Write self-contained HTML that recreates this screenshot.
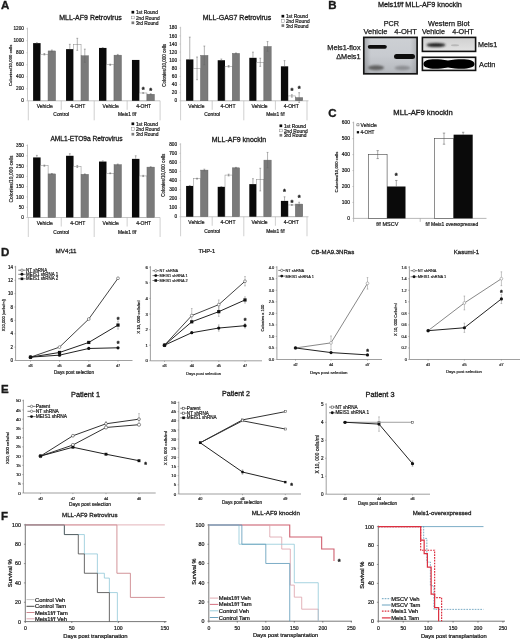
<!DOCTYPE html>
<html><head><meta charset="utf-8"><style>
html,body{margin:0;padding:0;background:#fff;}
body{width:520px;height:640px;overflow:hidden;}
svg{display:block;font-family:"Liberation Sans",sans-serif;will-change:transform;filter:blur(0.3px);}
text{fill:#1a1a1a;stroke:#1a1a1a;stroke-width:0.18px;}
</style></head><body>
<svg width="520" height="640" viewBox="0 0 520 640">
<rect width="520" height="640" fill="#fff"/>
<text x="0.90" y="9.14" font-size="11.5" fill="#000" font-weight="bold" style="stroke-width:0.35px">A</text>
<line x1="27.50" y1="27.70" x2="27.50" y2="100.80" stroke="#b0b0b0" stroke-width="0.7"/>
<line x1="26.30" y1="100.80" x2="27.50" y2="100.80" stroke="#b0b0b0" stroke-width="0.5"/>
<text x="23.90" y="102.49" font-size="4.7" text-anchor="end" style="stroke-width:0.197px">0</text>
<line x1="26.30" y1="88.78" x2="27.50" y2="88.78" stroke="#b0b0b0" stroke-width="0.5"/>
<text x="23.90" y="90.48" font-size="4.7" text-anchor="end" style="stroke-width:0.197px">200</text>
<line x1="26.30" y1="76.77" x2="27.50" y2="76.77" stroke="#b0b0b0" stroke-width="0.5"/>
<text x="23.90" y="78.46" font-size="4.7" text-anchor="end" style="stroke-width:0.197px">400</text>
<line x1="26.30" y1="64.75" x2="27.50" y2="64.75" stroke="#b0b0b0" stroke-width="0.5"/>
<text x="23.90" y="66.44" font-size="4.7" text-anchor="end" style="stroke-width:0.197px">600</text>
<line x1="26.30" y1="52.73" x2="27.50" y2="52.73" stroke="#b0b0b0" stroke-width="0.5"/>
<text x="23.90" y="54.43" font-size="4.7" text-anchor="end" style="stroke-width:0.197px">800</text>
<line x1="26.30" y1="40.72" x2="27.50" y2="40.72" stroke="#b0b0b0" stroke-width="0.5"/>
<text x="23.90" y="42.41" font-size="4.7" text-anchor="end" style="stroke-width:0.197px">1000</text>
<line x1="26.30" y1="28.70" x2="27.50" y2="28.70" stroke="#b0b0b0" stroke-width="0.5"/>
<text x="23.90" y="30.39" font-size="4.7" text-anchor="end" style="stroke-width:0.197px">1200</text>
<line x1="27.50" y1="100.80" x2="160.10" y2="100.80" stroke="#b0b0b0" stroke-width="0.7"/>
<line x1="28.30" y1="100.80" x2="28.30" y2="120.30" stroke="#b0b0b0" stroke-width="0.6"/>
<line x1="61.25" y1="100.80" x2="61.25" y2="109.80" stroke="#b0b0b0" stroke-width="0.6"/>
<line x1="94.20" y1="100.80" x2="94.20" y2="120.30" stroke="#b0b0b0" stroke-width="0.6"/>
<line x1="127.15" y1="100.80" x2="127.15" y2="109.80" stroke="#b0b0b0" stroke-width="0.6"/>
<line x1="160.10" y1="100.80" x2="160.10" y2="120.30" stroke="#b0b0b0" stroke-width="0.6"/>
<rect x="33.10" y="43.12" width="7.50" height="57.68" fill="#0a0a0a"/>
<line x1="36.85" y1="42.76" x2="36.85" y2="43.12" stroke="#666" stroke-width="0.5"/>
<line x1="35.95" y1="42.76" x2="37.75" y2="42.76" stroke="#666" stroke-width="0.5"/>
<rect x="40.60" y="54.24" width="7.50" height="46.56" fill="#fff" stroke="#888" stroke-width="0.5"/>
<line x1="44.35" y1="53.51" x2="44.35" y2="54.96" stroke="#666" stroke-width="0.5"/>
<line x1="43.45" y1="53.51" x2="45.25" y2="53.51" stroke="#666" stroke-width="0.5"/>
<line x1="43.45" y1="54.96" x2="45.25" y2="54.96" stroke="#666" stroke-width="0.5"/>
<rect x="48.10" y="50.93" width="7.50" height="49.87" fill="#7a7a7a" stroke="#606060" stroke-width="0.4"/>
<line x1="51.85" y1="50.03" x2="51.85" y2="51.83" stroke="#666" stroke-width="0.5"/>
<line x1="50.95" y1="50.03" x2="52.75" y2="50.03" stroke="#666" stroke-width="0.5"/>
<line x1="50.95" y1="51.83" x2="52.75" y2="51.83" stroke="#666" stroke-width="0.5"/>
<rect x="66.05" y="49.13" width="7.50" height="51.67" fill="#0a0a0a"/>
<line x1="69.80" y1="44.32" x2="69.80" y2="49.13" stroke="#666" stroke-width="0.5"/>
<line x1="68.90" y1="44.32" x2="70.70" y2="44.32" stroke="#666" stroke-width="0.5"/>
<rect x="73.55" y="44.32" width="7.50" height="56.48" fill="#fff" stroke="#888" stroke-width="0.5"/>
<line x1="77.30" y1="38.31" x2="77.30" y2="50.33" stroke="#666" stroke-width="0.5"/>
<line x1="76.40" y1="38.31" x2="78.20" y2="38.31" stroke="#666" stroke-width="0.5"/>
<line x1="76.40" y1="50.33" x2="78.20" y2="50.33" stroke="#666" stroke-width="0.5"/>
<rect x="81.05" y="55.74" width="7.50" height="45.06" fill="#7a7a7a" stroke="#606060" stroke-width="0.4"/>
<line x1="84.80" y1="49.13" x2="84.80" y2="62.35" stroke="#666" stroke-width="0.5"/>
<line x1="83.90" y1="49.13" x2="85.70" y2="49.13" stroke="#666" stroke-width="0.5"/>
<line x1="83.90" y1="62.35" x2="85.70" y2="62.35" stroke="#666" stroke-width="0.5"/>
<rect x="99.00" y="47.93" width="7.50" height="52.87" fill="#0a0a0a"/>
<line x1="102.75" y1="47.63" x2="102.75" y2="47.93" stroke="#666" stroke-width="0.5"/>
<line x1="101.85" y1="47.63" x2="103.65" y2="47.63" stroke="#666" stroke-width="0.5"/>
<rect x="106.50" y="64.75" width="7.50" height="36.05" fill="#fff" stroke="#888" stroke-width="0.5"/>
<line x1="110.25" y1="64.15" x2="110.25" y2="65.35" stroke="#666" stroke-width="0.5"/>
<line x1="109.35" y1="64.15" x2="111.15" y2="64.15" stroke="#666" stroke-width="0.5"/>
<line x1="109.35" y1="65.35" x2="111.15" y2="65.35" stroke="#666" stroke-width="0.5"/>
<rect x="114.00" y="55.14" width="7.50" height="45.66" fill="#7a7a7a" stroke="#606060" stroke-width="0.4"/>
<line x1="117.75" y1="54.42" x2="117.75" y2="55.86" stroke="#666" stroke-width="0.5"/>
<line x1="116.85" y1="54.42" x2="118.65" y2="54.42" stroke="#666" stroke-width="0.5"/>
<line x1="116.85" y1="55.86" x2="118.65" y2="55.86" stroke="#666" stroke-width="0.5"/>
<rect x="131.95" y="59.94" width="7.50" height="40.86" fill="#0a0a0a"/>
<rect x="139.45" y="92.99" width="7.50" height="7.81" fill="#fff" stroke="#888" stroke-width="0.5"/>
<line x1="143.20" y1="92.69" x2="143.20" y2="93.29" stroke="#666" stroke-width="0.5"/>
<line x1="142.30" y1="92.69" x2="144.10" y2="92.69" stroke="#666" stroke-width="0.5"/>
<line x1="142.30" y1="93.29" x2="144.10" y2="93.29" stroke="#666" stroke-width="0.5"/>
<rect x="146.95" y="94.19" width="7.50" height="6.61" fill="#7a7a7a" stroke="#606060" stroke-width="0.4"/>
<line x1="150.70" y1="93.71" x2="150.70" y2="94.67" stroke="#666" stroke-width="0.5"/>
<line x1="149.80" y1="93.71" x2="151.60" y2="93.71" stroke="#666" stroke-width="0.5"/>
<line x1="149.80" y1="94.67" x2="151.60" y2="94.67" stroke="#666" stroke-width="0.5"/>
<text x="143.20" y="91.68" font-size="7.5" text-anchor="middle" fill="#111" font-weight="bold" style="stroke-width:0.315px">*</text>
<text x="150.70" y="92.88" font-size="7.5" text-anchor="middle" fill="#111" font-weight="bold" style="stroke-width:0.315px">*</text>
<text x="44.78" y="107.60" font-size="5.0" text-anchor="middle" style="stroke-width:0.21px">Vehicle</text>
<text x="77.73" y="107.60" font-size="5.0" text-anchor="middle" style="stroke-width:0.21px">4-OHT</text>
<text x="110.67" y="107.60" font-size="5.0" text-anchor="middle" style="stroke-width:0.21px">Vehicle</text>
<text x="143.63" y="107.60" font-size="5.0" text-anchor="middle" style="stroke-width:0.21px">4-OHT</text>
<text x="61.25" y="116.26" font-size="4.9" text-anchor="middle" style="stroke-width:0.206px">Control</text>
<text x="127.15" y="116.26" font-size="4.9" text-anchor="middle" style="stroke-width:0.206px">Meis1 f/f</text>
<text x="90.50" y="20.02" font-size="7" text-anchor="middle" style="stroke-width:0.294px">MLL-AF9 Retrovirus</text>
<text x="10.10" y="66.87" font-size="4.37" text-anchor="middle" style="stroke-width:0.184px" transform="rotate(-90 10.10 65.30)">Colonies/10,000 cells</text>
<rect x="131.50" y="10.85" width="2.70" height="2.70" fill="#0a0a0a"/>
<text x="135.90" y="14.35" font-size="4.85" style="stroke-width:0.204px">1st Round</text>
<rect x="131.50" y="16.15" width="2.70" height="2.70" fill="#ffffff" stroke="#777" stroke-width="0.4"/>
<text x="135.90" y="19.65" font-size="4.85" style="stroke-width:0.204px">2nd Round</text>
<rect x="131.50" y="21.45" width="2.70" height="2.70" fill="#7a7a7a"/>
<text x="135.90" y="24.95" font-size="4.85" style="stroke-width:0.204px">3rd Round</text>
<line x1="180.60" y1="26.80" x2="180.60" y2="100.80" stroke="#b0b0b0" stroke-width="0.7"/>
<line x1="179.40" y1="100.80" x2="180.60" y2="100.80" stroke="#b0b0b0" stroke-width="0.5"/>
<text x="177.00" y="102.49" font-size="4.7" text-anchor="end" style="stroke-width:0.197px">0</text>
<line x1="179.40" y1="92.69" x2="180.60" y2="92.69" stroke="#b0b0b0" stroke-width="0.5"/>
<text x="177.00" y="94.38" font-size="4.7" text-anchor="end" style="stroke-width:0.197px">20</text>
<line x1="179.40" y1="84.58" x2="180.60" y2="84.58" stroke="#b0b0b0" stroke-width="0.5"/>
<text x="177.00" y="86.27" font-size="4.7" text-anchor="end" style="stroke-width:0.197px">40</text>
<line x1="179.40" y1="76.47" x2="180.60" y2="76.47" stroke="#b0b0b0" stroke-width="0.5"/>
<text x="177.00" y="78.16" font-size="4.7" text-anchor="end" style="stroke-width:0.197px">60</text>
<line x1="179.40" y1="68.36" x2="180.60" y2="68.36" stroke="#b0b0b0" stroke-width="0.5"/>
<text x="177.00" y="70.05" font-size="4.7" text-anchor="end" style="stroke-width:0.197px">80</text>
<line x1="179.40" y1="60.24" x2="180.60" y2="60.24" stroke="#b0b0b0" stroke-width="0.5"/>
<text x="177.00" y="61.94" font-size="4.7" text-anchor="end" style="stroke-width:0.197px">100</text>
<line x1="179.40" y1="52.13" x2="180.60" y2="52.13" stroke="#b0b0b0" stroke-width="0.5"/>
<text x="177.00" y="53.83" font-size="4.7" text-anchor="end" style="stroke-width:0.197px">120</text>
<line x1="179.40" y1="44.02" x2="180.60" y2="44.02" stroke="#b0b0b0" stroke-width="0.5"/>
<text x="177.00" y="45.71" font-size="4.7" text-anchor="end" style="stroke-width:0.197px">140</text>
<line x1="179.40" y1="35.91" x2="180.60" y2="35.91" stroke="#b0b0b0" stroke-width="0.5"/>
<text x="177.00" y="37.60" font-size="4.7" text-anchor="end" style="stroke-width:0.197px">160</text>
<line x1="179.40" y1="27.80" x2="180.60" y2="27.80" stroke="#b0b0b0" stroke-width="0.5"/>
<text x="177.00" y="29.49" font-size="4.7" text-anchor="end" style="stroke-width:0.197px">180</text>
<line x1="180.60" y1="100.80" x2="308.50" y2="100.80" stroke="#b0b0b0" stroke-width="0.7"/>
<line x1="180.60" y1="100.80" x2="180.60" y2="120.30" stroke="#b0b0b0" stroke-width="0.6"/>
<line x1="212.20" y1="100.80" x2="212.20" y2="109.80" stroke="#b0b0b0" stroke-width="0.6"/>
<line x1="243.80" y1="100.80" x2="243.80" y2="120.30" stroke="#b0b0b0" stroke-width="0.6"/>
<line x1="275.40" y1="100.80" x2="275.40" y2="109.80" stroke="#b0b0b0" stroke-width="0.6"/>
<line x1="307.00" y1="100.80" x2="307.00" y2="120.30" stroke="#b0b0b0" stroke-width="0.6"/>
<rect x="186.10" y="59.43" width="7.30" height="41.37" fill="#0a0a0a"/>
<line x1="189.75" y1="37.13" x2="189.75" y2="59.43" stroke="#666" stroke-width="0.5"/>
<line x1="188.85" y1="37.13" x2="190.65" y2="37.13" stroke="#666" stroke-width="0.5"/>
<rect x="193.40" y="68.36" width="7.30" height="32.44" fill="#fff" stroke="#888" stroke-width="0.5"/>
<line x1="197.05" y1="57.00" x2="197.05" y2="79.71" stroke="#666" stroke-width="0.5"/>
<line x1="196.15" y1="57.00" x2="197.95" y2="57.00" stroke="#666" stroke-width="0.5"/>
<line x1="196.15" y1="79.71" x2="197.95" y2="79.71" stroke="#666" stroke-width="0.5"/>
<rect x="200.70" y="55.38" width="7.30" height="45.42" fill="#7a7a7a" stroke="#606060" stroke-width="0.4"/>
<line x1="204.35" y1="46.05" x2="204.35" y2="64.71" stroke="#666" stroke-width="0.5"/>
<line x1="203.45" y1="46.05" x2="205.25" y2="46.05" stroke="#666" stroke-width="0.5"/>
<line x1="203.45" y1="64.71" x2="205.25" y2="64.71" stroke="#666" stroke-width="0.5"/>
<rect x="217.70" y="60.24" width="7.30" height="40.56" fill="#0a0a0a"/>
<line x1="221.35" y1="59.03" x2="221.35" y2="60.24" stroke="#666" stroke-width="0.5"/>
<line x1="220.45" y1="59.03" x2="222.25" y2="59.03" stroke="#666" stroke-width="0.5"/>
<rect x="225.00" y="66.33" width="7.30" height="34.47" fill="#fff" stroke="#888" stroke-width="0.5"/>
<line x1="228.65" y1="65.52" x2="228.65" y2="67.14" stroke="#666" stroke-width="0.5"/>
<line x1="227.75" y1="65.52" x2="229.55" y2="65.52" stroke="#666" stroke-width="0.5"/>
<line x1="227.75" y1="67.14" x2="229.55" y2="67.14" stroke="#666" stroke-width="0.5"/>
<rect x="232.30" y="53.35" width="7.30" height="47.45" fill="#7a7a7a" stroke="#606060" stroke-width="0.4"/>
<line x1="235.95" y1="52.94" x2="235.95" y2="53.76" stroke="#666" stroke-width="0.5"/>
<line x1="235.05" y1="52.94" x2="236.85" y2="52.94" stroke="#666" stroke-width="0.5"/>
<line x1="235.05" y1="53.76" x2="236.85" y2="53.76" stroke="#666" stroke-width="0.5"/>
<rect x="249.30" y="57.81" width="7.30" height="42.99" fill="#0a0a0a"/>
<line x1="252.95" y1="52.13" x2="252.95" y2="57.81" stroke="#666" stroke-width="0.5"/>
<line x1="252.05" y1="52.13" x2="253.85" y2="52.13" stroke="#666" stroke-width="0.5"/>
<rect x="256.60" y="62.27" width="7.30" height="38.53" fill="#fff" stroke="#888" stroke-width="0.5"/>
<line x1="260.25" y1="58.22" x2="260.25" y2="66.33" stroke="#666" stroke-width="0.5"/>
<line x1="259.35" y1="58.22" x2="261.15" y2="58.22" stroke="#666" stroke-width="0.5"/>
<line x1="259.35" y1="66.33" x2="261.15" y2="66.33" stroke="#666" stroke-width="0.5"/>
<rect x="263.90" y="46.46" width="7.30" height="54.34" fill="#7a7a7a" stroke="#606060" stroke-width="0.4"/>
<line x1="267.55" y1="41.59" x2="267.55" y2="51.32" stroke="#666" stroke-width="0.5"/>
<line x1="266.65" y1="41.59" x2="268.45" y2="41.59" stroke="#666" stroke-width="0.5"/>
<line x1="266.65" y1="51.32" x2="268.45" y2="51.32" stroke="#666" stroke-width="0.5"/>
<rect x="280.90" y="66.33" width="7.30" height="34.47" fill="#0a0a0a"/>
<line x1="284.55" y1="60.65" x2="284.55" y2="66.33" stroke="#666" stroke-width="0.5"/>
<line x1="283.65" y1="60.65" x2="285.45" y2="60.65" stroke="#666" stroke-width="0.5"/>
<rect x="288.20" y="95.93" width="7.30" height="4.87" fill="#fff" stroke="#888" stroke-width="0.5"/>
<line x1="291.85" y1="94.72" x2="291.85" y2="97.15" stroke="#666" stroke-width="0.5"/>
<line x1="290.95" y1="94.72" x2="292.75" y2="94.72" stroke="#666" stroke-width="0.5"/>
<line x1="290.95" y1="97.15" x2="292.75" y2="97.15" stroke="#666" stroke-width="0.5"/>
<rect x="295.50" y="97.56" width="7.30" height="3.24" fill="#7a7a7a" stroke="#606060" stroke-width="0.4"/>
<line x1="299.15" y1="92.69" x2="299.15" y2="102.42" stroke="#666" stroke-width="0.5"/>
<line x1="298.25" y1="92.69" x2="300.05" y2="92.69" stroke="#666" stroke-width="0.5"/>
<line x1="298.25" y1="102.42" x2="300.05" y2="102.42" stroke="#666" stroke-width="0.5"/>
<text x="291.85" y="93.35" font-size="7.5" text-anchor="middle" fill="#111" font-weight="bold" style="stroke-width:0.315px">*</text>
<text x="299.15" y="91.32" font-size="7.5" text-anchor="middle" fill="#111" font-weight="bold" style="stroke-width:0.315px">*</text>
<text x="196.40" y="107.60" font-size="5.0" text-anchor="middle" style="stroke-width:0.21px">Vehicle</text>
<text x="228.00" y="107.60" font-size="5.0" text-anchor="middle" style="stroke-width:0.21px">4-OHT</text>
<text x="259.60" y="107.60" font-size="5.0" text-anchor="middle" style="stroke-width:0.21px">Vehicle</text>
<text x="291.20" y="107.60" font-size="5.0" text-anchor="middle" style="stroke-width:0.21px">4-OHT</text>
<text x="212.20" y="116.06" font-size="4.9" text-anchor="middle" style="stroke-width:0.206px">Control</text>
<text x="275.40" y="116.06" font-size="4.9" text-anchor="middle" style="stroke-width:0.206px">Meis1 f/f</text>
<text x="237.00" y="20.02" font-size="7" text-anchor="middle" style="stroke-width:0.294px">MLL-GAS7 Retrovirus</text>
<text x="164.75" y="67.03" font-size="4.52" text-anchor="middle" style="stroke-width:0.19px" transform="rotate(-90 164.75 65.40)">Colonies/10,000 cells</text>
<rect x="281.50" y="14.85" width="2.70" height="2.70" fill="#0a0a0a"/>
<text x="285.90" y="18.35" font-size="4.85" style="stroke-width:0.204px">1st Round</text>
<rect x="281.50" y="19.55" width="2.70" height="2.70" fill="#ffffff" stroke="#777" stroke-width="0.4"/>
<text x="285.90" y="23.05" font-size="4.85" style="stroke-width:0.204px">2nd Round</text>
<rect x="281.50" y="24.25" width="2.70" height="2.70" fill="#7a7a7a"/>
<text x="285.90" y="27.75" font-size="4.85" style="stroke-width:0.204px">3rd Round</text>
<line x1="27.50" y1="144.50" x2="27.50" y2="217.50" stroke="#b0b0b0" stroke-width="0.7"/>
<line x1="26.30" y1="217.50" x2="27.50" y2="217.50" stroke="#b0b0b0" stroke-width="0.5"/>
<text x="23.90" y="219.19" font-size="4.7" text-anchor="end" style="stroke-width:0.197px">0</text>
<line x1="26.30" y1="207.21" x2="27.50" y2="207.21" stroke="#b0b0b0" stroke-width="0.5"/>
<text x="23.90" y="208.91" font-size="4.7" text-anchor="end" style="stroke-width:0.197px">50</text>
<line x1="26.30" y1="196.93" x2="27.50" y2="196.93" stroke="#b0b0b0" stroke-width="0.5"/>
<text x="23.90" y="198.62" font-size="4.7" text-anchor="end" style="stroke-width:0.197px">100</text>
<line x1="26.30" y1="186.64" x2="27.50" y2="186.64" stroke="#b0b0b0" stroke-width="0.5"/>
<text x="23.90" y="188.33" font-size="4.7" text-anchor="end" style="stroke-width:0.197px">150</text>
<line x1="26.30" y1="176.36" x2="27.50" y2="176.36" stroke="#b0b0b0" stroke-width="0.5"/>
<text x="23.90" y="178.05" font-size="4.7" text-anchor="end" style="stroke-width:0.197px">200</text>
<line x1="26.30" y1="166.07" x2="27.50" y2="166.07" stroke="#b0b0b0" stroke-width="0.5"/>
<text x="23.90" y="167.76" font-size="4.7" text-anchor="end" style="stroke-width:0.197px">250</text>
<line x1="26.30" y1="155.79" x2="27.50" y2="155.79" stroke="#b0b0b0" stroke-width="0.5"/>
<text x="23.90" y="157.48" font-size="4.7" text-anchor="end" style="stroke-width:0.197px">300</text>
<line x1="26.30" y1="145.50" x2="27.50" y2="145.50" stroke="#b0b0b0" stroke-width="0.5"/>
<text x="23.90" y="147.19" font-size="4.7" text-anchor="end" style="stroke-width:0.197px">350</text>
<line x1="27.50" y1="217.50" x2="160.10" y2="217.50" stroke="#b0b0b0" stroke-width="0.7"/>
<line x1="28.30" y1="217.50" x2="28.30" y2="237.00" stroke="#b0b0b0" stroke-width="0.6"/>
<line x1="61.25" y1="217.50" x2="61.25" y2="226.50" stroke="#b0b0b0" stroke-width="0.6"/>
<line x1="94.20" y1="217.50" x2="94.20" y2="237.00" stroke="#b0b0b0" stroke-width="0.6"/>
<line x1="127.15" y1="217.50" x2="127.15" y2="226.50" stroke="#b0b0b0" stroke-width="0.6"/>
<line x1="160.10" y1="217.50" x2="160.10" y2="237.00" stroke="#b0b0b0" stroke-width="0.6"/>
<rect x="33.10" y="157.43" width="7.50" height="60.07" fill="#0a0a0a"/>
<line x1="36.85" y1="155.37" x2="36.85" y2="157.43" stroke="#666" stroke-width="0.5"/>
<line x1="35.95" y1="155.37" x2="37.75" y2="155.37" stroke="#666" stroke-width="0.5"/>
<rect x="40.60" y="165.66" width="7.50" height="51.84" fill="#fff" stroke="#888" stroke-width="0.5"/>
<line x1="44.35" y1="165.04" x2="44.35" y2="166.28" stroke="#666" stroke-width="0.5"/>
<line x1="43.45" y1="165.04" x2="45.25" y2="165.04" stroke="#666" stroke-width="0.5"/>
<line x1="43.45" y1="166.28" x2="45.25" y2="166.28" stroke="#666" stroke-width="0.5"/>
<rect x="48.10" y="173.89" width="7.50" height="43.61" fill="#7a7a7a" stroke="#606060" stroke-width="0.4"/>
<line x1="51.85" y1="173.48" x2="51.85" y2="174.30" stroke="#666" stroke-width="0.5"/>
<line x1="50.95" y1="173.48" x2="52.75" y2="173.48" stroke="#666" stroke-width="0.5"/>
<line x1="50.95" y1="174.30" x2="52.75" y2="174.30" stroke="#666" stroke-width="0.5"/>
<rect x="66.05" y="155.79" width="7.50" height="61.71" fill="#0a0a0a"/>
<line x1="69.80" y1="153.73" x2="69.80" y2="155.79" stroke="#666" stroke-width="0.5"/>
<line x1="68.90" y1="153.73" x2="70.70" y2="153.73" stroke="#666" stroke-width="0.5"/>
<rect x="73.55" y="166.48" width="7.50" height="51.02" fill="#fff" stroke="#888" stroke-width="0.5"/>
<line x1="77.30" y1="165.45" x2="77.30" y2="167.51" stroke="#666" stroke-width="0.5"/>
<line x1="76.40" y1="165.45" x2="78.20" y2="165.45" stroke="#666" stroke-width="0.5"/>
<line x1="76.40" y1="167.51" x2="78.20" y2="167.51" stroke="#666" stroke-width="0.5"/>
<rect x="81.05" y="174.30" width="7.50" height="43.20" fill="#7a7a7a" stroke="#606060" stroke-width="0.4"/>
<line x1="84.80" y1="173.89" x2="84.80" y2="174.71" stroke="#666" stroke-width="0.5"/>
<line x1="83.90" y1="173.89" x2="85.70" y2="173.89" stroke="#666" stroke-width="0.5"/>
<line x1="83.90" y1="174.71" x2="85.70" y2="174.71" stroke="#666" stroke-width="0.5"/>
<rect x="99.00" y="161.55" width="7.50" height="55.95" fill="#0a0a0a"/>
<line x1="102.75" y1="160.93" x2="102.75" y2="161.55" stroke="#666" stroke-width="0.5"/>
<line x1="101.85" y1="160.93" x2="103.65" y2="160.93" stroke="#666" stroke-width="0.5"/>
<rect x="106.50" y="173.27" width="7.50" height="44.23" fill="#fff" stroke="#888" stroke-width="0.5"/>
<line x1="110.25" y1="172.86" x2="110.25" y2="173.68" stroke="#666" stroke-width="0.5"/>
<line x1="109.35" y1="172.86" x2="111.15" y2="172.86" stroke="#666" stroke-width="0.5"/>
<line x1="109.35" y1="173.68" x2="111.15" y2="173.68" stroke="#666" stroke-width="0.5"/>
<rect x="114.00" y="164.63" width="7.50" height="52.87" fill="#7a7a7a" stroke="#606060" stroke-width="0.4"/>
<line x1="117.75" y1="164.01" x2="117.75" y2="165.25" stroke="#666" stroke-width="0.5"/>
<line x1="116.85" y1="164.01" x2="118.65" y2="164.01" stroke="#666" stroke-width="0.5"/>
<line x1="116.85" y1="165.25" x2="118.65" y2="165.25" stroke="#666" stroke-width="0.5"/>
<rect x="131.95" y="158.87" width="7.50" height="58.63" fill="#0a0a0a"/>
<line x1="135.70" y1="155.79" x2="135.70" y2="158.87" stroke="#666" stroke-width="0.5"/>
<line x1="134.80" y1="155.79" x2="136.60" y2="155.79" stroke="#666" stroke-width="0.5"/>
<rect x="139.45" y="175.95" width="7.50" height="41.55" fill="#fff" stroke="#888" stroke-width="0.5"/>
<line x1="143.20" y1="175.33" x2="143.20" y2="176.56" stroke="#666" stroke-width="0.5"/>
<line x1="142.30" y1="175.33" x2="144.10" y2="175.33" stroke="#666" stroke-width="0.5"/>
<line x1="142.30" y1="176.56" x2="144.10" y2="176.56" stroke="#666" stroke-width="0.5"/>
<rect x="146.95" y="167.10" width="7.50" height="50.40" fill="#7a7a7a" stroke="#606060" stroke-width="0.4"/>
<line x1="150.70" y1="166.69" x2="150.70" y2="167.51" stroke="#666" stroke-width="0.5"/>
<line x1="149.80" y1="166.69" x2="151.60" y2="166.69" stroke="#666" stroke-width="0.5"/>
<line x1="149.80" y1="167.51" x2="151.60" y2="167.51" stroke="#666" stroke-width="0.5"/>
<text x="44.78" y="225.10" font-size="5.0" text-anchor="middle" style="stroke-width:0.21px">Vehicle</text>
<text x="77.73" y="225.10" font-size="5.0" text-anchor="middle" style="stroke-width:0.21px">4-OHT</text>
<text x="110.67" y="225.10" font-size="5.0" text-anchor="middle" style="stroke-width:0.21px">Vehicle</text>
<text x="143.63" y="225.10" font-size="5.0" text-anchor="middle" style="stroke-width:0.21px">4-OHT</text>
<text x="61.25" y="233.56" font-size="4.9" text-anchor="middle" style="stroke-width:0.206px">Control</text>
<text x="127.15" y="233.56" font-size="4.9" text-anchor="middle" style="stroke-width:0.206px">Meis1 f/f</text>
<text x="86.50" y="141.08" font-size="6.6" text-anchor="middle" style="stroke-width:0.277px">AML1-ETO9a Retrovirus</text>
<text x="11.10" y="180.78" font-size="4.94" text-anchor="middle" style="stroke-width:0.207px" transform="rotate(-90 11.10 179.00)">Colonies/10,000 cells</text>
<rect x="131.50" y="122.45" width="2.70" height="2.70" fill="#0a0a0a"/>
<text x="135.90" y="125.95" font-size="4.85" style="stroke-width:0.204px">1st Round</text>
<rect x="131.50" y="127.65" width="2.70" height="2.70" fill="#ffffff" stroke="#777" stroke-width="0.4"/>
<text x="135.90" y="131.15" font-size="4.85" style="stroke-width:0.204px">2nd Round</text>
<rect x="131.50" y="132.85" width="2.70" height="2.70" fill="#7a7a7a"/>
<text x="135.90" y="136.35" font-size="4.85" style="stroke-width:0.204px">3rd Round</text>
<line x1="180.60" y1="143.25" x2="180.60" y2="216.75" stroke="#b0b0b0" stroke-width="0.7"/>
<line x1="179.40" y1="216.75" x2="180.60" y2="216.75" stroke="#b0b0b0" stroke-width="0.5"/>
<text x="177.00" y="218.44" font-size="4.7" text-anchor="end" style="stroke-width:0.197px">0</text>
<line x1="179.40" y1="207.69" x2="180.60" y2="207.69" stroke="#b0b0b0" stroke-width="0.5"/>
<text x="177.00" y="209.38" font-size="4.7" text-anchor="end" style="stroke-width:0.197px">100</text>
<line x1="179.40" y1="198.62" x2="180.60" y2="198.62" stroke="#b0b0b0" stroke-width="0.5"/>
<text x="177.00" y="200.32" font-size="4.7" text-anchor="end" style="stroke-width:0.197px">200</text>
<line x1="179.40" y1="189.56" x2="180.60" y2="189.56" stroke="#b0b0b0" stroke-width="0.5"/>
<text x="177.00" y="191.25" font-size="4.7" text-anchor="end" style="stroke-width:0.197px">300</text>
<line x1="179.40" y1="180.50" x2="180.60" y2="180.50" stroke="#b0b0b0" stroke-width="0.5"/>
<text x="177.00" y="182.19" font-size="4.7" text-anchor="end" style="stroke-width:0.197px">400</text>
<line x1="179.40" y1="171.44" x2="180.60" y2="171.44" stroke="#b0b0b0" stroke-width="0.5"/>
<text x="177.00" y="173.13" font-size="4.7" text-anchor="end" style="stroke-width:0.197px">500</text>
<line x1="179.40" y1="162.38" x2="180.60" y2="162.38" stroke="#b0b0b0" stroke-width="0.5"/>
<text x="177.00" y="164.07" font-size="4.7" text-anchor="end" style="stroke-width:0.197px">600</text>
<line x1="179.40" y1="153.31" x2="180.60" y2="153.31" stroke="#b0b0b0" stroke-width="0.5"/>
<text x="177.00" y="155.00" font-size="4.7" text-anchor="end" style="stroke-width:0.197px">700</text>
<line x1="179.40" y1="144.25" x2="180.60" y2="144.25" stroke="#b0b0b0" stroke-width="0.5"/>
<text x="177.00" y="145.94" font-size="4.7" text-anchor="end" style="stroke-width:0.197px">800</text>
<line x1="180.60" y1="216.75" x2="308.50" y2="216.75" stroke="#b0b0b0" stroke-width="0.7"/>
<line x1="180.60" y1="216.75" x2="180.60" y2="236.25" stroke="#b0b0b0" stroke-width="0.6"/>
<line x1="212.20" y1="216.75" x2="212.20" y2="225.75" stroke="#b0b0b0" stroke-width="0.6"/>
<line x1="243.80" y1="216.75" x2="243.80" y2="236.25" stroke="#b0b0b0" stroke-width="0.6"/>
<line x1="275.40" y1="216.75" x2="275.40" y2="225.75" stroke="#b0b0b0" stroke-width="0.6"/>
<line x1="307.00" y1="216.75" x2="307.00" y2="236.25" stroke="#b0b0b0" stroke-width="0.6"/>
<rect x="186.10" y="185.94" width="7.30" height="30.81" fill="#0a0a0a"/>
<line x1="189.75" y1="185.48" x2="189.75" y2="185.94" stroke="#666" stroke-width="0.5"/>
<line x1="188.85" y1="185.48" x2="190.65" y2="185.48" stroke="#666" stroke-width="0.5"/>
<rect x="193.40" y="178.69" width="7.30" height="38.06" fill="#fff" stroke="#888" stroke-width="0.5"/>
<line x1="197.05" y1="178.23" x2="197.05" y2="179.14" stroke="#666" stroke-width="0.5"/>
<line x1="196.15" y1="178.23" x2="197.95" y2="178.23" stroke="#666" stroke-width="0.5"/>
<line x1="196.15" y1="179.14" x2="197.95" y2="179.14" stroke="#666" stroke-width="0.5"/>
<rect x="200.70" y="170.08" width="7.30" height="46.67" fill="#7a7a7a" stroke="#606060" stroke-width="0.4"/>
<line x1="204.35" y1="169.17" x2="204.35" y2="170.98" stroke="#666" stroke-width="0.5"/>
<line x1="203.45" y1="169.17" x2="205.25" y2="169.17" stroke="#666" stroke-width="0.5"/>
<line x1="203.45" y1="170.98" x2="205.25" y2="170.98" stroke="#666" stroke-width="0.5"/>
<rect x="217.70" y="186.84" width="7.30" height="29.91" fill="#0a0a0a"/>
<line x1="221.35" y1="186.57" x2="221.35" y2="186.84" stroke="#666" stroke-width="0.5"/>
<line x1="220.45" y1="186.57" x2="222.25" y2="186.57" stroke="#666" stroke-width="0.5"/>
<rect x="225.00" y="175.06" width="7.30" height="41.69" fill="#fff" stroke="#888" stroke-width="0.5"/>
<line x1="228.65" y1="174.16" x2="228.65" y2="175.97" stroke="#666" stroke-width="0.5"/>
<line x1="227.75" y1="174.16" x2="229.55" y2="174.16" stroke="#666" stroke-width="0.5"/>
<line x1="227.75" y1="175.97" x2="229.55" y2="175.97" stroke="#666" stroke-width="0.5"/>
<rect x="232.30" y="167.81" width="7.30" height="48.94" fill="#7a7a7a" stroke="#606060" stroke-width="0.4"/>
<line x1="235.95" y1="167.36" x2="235.95" y2="168.27" stroke="#666" stroke-width="0.5"/>
<line x1="235.05" y1="167.36" x2="236.85" y2="167.36" stroke="#666" stroke-width="0.5"/>
<line x1="235.05" y1="168.27" x2="236.85" y2="168.27" stroke="#666" stroke-width="0.5"/>
<rect x="249.30" y="184.12" width="7.30" height="32.62" fill="#0a0a0a"/>
<line x1="252.95" y1="178.69" x2="252.95" y2="184.12" stroke="#666" stroke-width="0.5"/>
<line x1="252.05" y1="178.69" x2="253.85" y2="178.69" stroke="#666" stroke-width="0.5"/>
<rect x="256.60" y="179.59" width="7.30" height="37.16" fill="#fff" stroke="#888" stroke-width="0.5"/>
<line x1="260.25" y1="168.27" x2="260.25" y2="190.92" stroke="#666" stroke-width="0.5"/>
<line x1="259.35" y1="168.27" x2="261.15" y2="168.27" stroke="#666" stroke-width="0.5"/>
<line x1="259.35" y1="190.92" x2="261.15" y2="190.92" stroke="#666" stroke-width="0.5"/>
<rect x="263.90" y="160.11" width="7.30" height="56.64" fill="#7a7a7a" stroke="#606060" stroke-width="0.4"/>
<line x1="267.55" y1="152.41" x2="267.55" y2="167.81" stroke="#666" stroke-width="0.5"/>
<line x1="266.65" y1="152.41" x2="268.45" y2="152.41" stroke="#666" stroke-width="0.5"/>
<line x1="266.65" y1="167.81" x2="268.45" y2="167.81" stroke="#666" stroke-width="0.5"/>
<rect x="280.90" y="200.89" width="7.30" height="15.86" fill="#0a0a0a"/>
<line x1="284.55" y1="196.81" x2="284.55" y2="200.89" stroke="#666" stroke-width="0.5"/>
<line x1="283.65" y1="196.81" x2="285.45" y2="196.81" stroke="#666" stroke-width="0.5"/>
<rect x="288.20" y="204.97" width="7.30" height="11.78" fill="#fff" stroke="#888" stroke-width="0.5"/>
<line x1="291.85" y1="204.52" x2="291.85" y2="205.42" stroke="#666" stroke-width="0.5"/>
<line x1="290.95" y1="204.52" x2="292.75" y2="204.52" stroke="#666" stroke-width="0.5"/>
<line x1="290.95" y1="205.42" x2="292.75" y2="205.42" stroke="#666" stroke-width="0.5"/>
<rect x="295.50" y="204.06" width="7.30" height="12.69" fill="#7a7a7a" stroke="#606060" stroke-width="0.4"/>
<line x1="299.15" y1="202.25" x2="299.15" y2="205.88" stroke="#666" stroke-width="0.5"/>
<line x1="298.25" y1="202.25" x2="300.05" y2="202.25" stroke="#666" stroke-width="0.5"/>
<line x1="298.25" y1="205.88" x2="300.05" y2="205.88" stroke="#666" stroke-width="0.5"/>
<text x="284.55" y="194.42" font-size="7.5" text-anchor="middle" fill="#111" font-weight="bold" style="stroke-width:0.315px">*</text>
<text x="291.85" y="204.66" font-size="7.5" text-anchor="middle" fill="#111" font-weight="bold" style="stroke-width:0.315px">*</text>
<text x="299.15" y="200.31" font-size="7.5" text-anchor="middle" fill="#111" font-weight="bold" style="stroke-width:0.315px">*</text>
<text x="196.40" y="224.30" font-size="5.0" text-anchor="middle" style="stroke-width:0.21px">Vehicle</text>
<text x="228.00" y="224.30" font-size="5.0" text-anchor="middle" style="stroke-width:0.21px">4-OHT</text>
<text x="259.60" y="224.30" font-size="5.0" text-anchor="middle" style="stroke-width:0.21px">Vehicle</text>
<text x="291.20" y="224.30" font-size="5.0" text-anchor="middle" style="stroke-width:0.21px">4-OHT</text>
<text x="212.20" y="232.96" font-size="4.9" text-anchor="middle" style="stroke-width:0.206px">Control</text>
<text x="275.40" y="232.96" font-size="4.9" text-anchor="middle" style="stroke-width:0.206px">Meis1 f/f</text>
<text x="239.00" y="141.72" font-size="7" text-anchor="middle" style="stroke-width:0.294px">MLL-AF9 knockin</text>
<text x="163.50" y="176.93" font-size="4.52" text-anchor="middle" style="stroke-width:0.19px" transform="rotate(-90 163.50 175.30)">Colonies/10,000 cells</text>
<rect x="279.50" y="124.45" width="2.70" height="2.70" fill="#0a0a0a"/>
<text x="283.90" y="127.95" font-size="4.85" style="stroke-width:0.204px">1st Round</text>
<rect x="279.50" y="129.15" width="2.70" height="2.70" fill="#ffffff" stroke="#777" stroke-width="0.4"/>
<text x="283.90" y="132.65" font-size="4.85" style="stroke-width:0.204px">2nd Round</text>
<rect x="279.50" y="133.95" width="2.70" height="2.70" fill="#7a7a7a"/>
<text x="283.90" y="137.45" font-size="4.85" style="stroke-width:0.204px">3rd Round</text>
<text x="328.20" y="9.44" font-size="11.5" fill="#000" font-weight="bold" style="stroke-width:0.35px">B</text>
<text x="377.90" y="7.02" font-size="7.27" style="stroke-width:0.3px">Meis1f/f MLL-AF9 knockin</text>
<text x="383.70" y="26.41" font-size="7.25" style="stroke-width:0.25px">PCR</text>
<text x="363.50" y="34.18" font-size="7.44" style="stroke-width:0.25px">Vehicle</text>
<text x="394.20" y="34.24" font-size="7.6" style="stroke-width:0.25px">4-OHT</text>
<text x="428.00" y="26.32" font-size="7.27" style="stroke-width:0.25px">Western Blot</text>
<text x="421.90" y="33.97" font-size="7.13" style="stroke-width:0.25px">Vehicle</text>
<text x="452.20" y="33.99" font-size="7.2" style="stroke-width:0.25px">4-OHT</text>
<text x="327.30" y="49.73" font-size="7.31" style="stroke-width:0.25px">Meis1-flox</text>
<text x="336.20" y="59.34" font-size="7.32" style="stroke-width:0.25px">ΔMeis1</text>
<text x="478.10" y="46.98" font-size="7.16" style="stroke-width:0.25px">Meis1</text>
<text x="479.00" y="66.96" font-size="7.38" style="stroke-width:0.25px">Actin</text>
<defs>
<linearGradient id="gel" x1="0" y1="0" x2="0" y2="1">
<stop offset="0" stop-color="#cdd0d4"/><stop offset="0.5" stop-color="#c8cbd0"/><stop offset="1" stop-color="#b4b7bc"/>
</linearGradient>
<linearGradient id="gelh" x1="0" y1="0" x2="1" y2="0">
<stop offset="0" stop-color="#000" stop-opacity="0.18"/><stop offset="0.12" stop-color="#000" stop-opacity="0"/>
<stop offset="0.88" stop-color="#000" stop-opacity="0"/><stop offset="1" stop-color="#000" stop-opacity="0.12"/>
</linearGradient>
<linearGradient id="wb1" x1="0" y1="0" x2="0" y2="1">
<stop offset="0" stop-color="#d0d0d0"/><stop offset="1" stop-color="#e2e2e2"/>
</linearGradient>
<filter id="bl" x="-20%" y="-50%" width="140%" height="200%"><feGaussianBlur stdDeviation="0.7"/></filter>
<filter id="bl2" x="-20%" y="-50%" width="140%" height="200%"><feGaussianBlur stdDeviation="1.3"/></filter>
</defs>
<rect x="363.80" y="37.40" width="53.30" height="36.40" fill="url(#gel)" stroke="#151515" stroke-width="1.7"/>
<rect x="364.60" y="38.20" width="51.70" height="34.80" fill="url(#gelh)"/>
<rect x="367.8" y="44.9" width="19" height="3.8" rx="1.9" fill="#0a0a0a" filter="url(#bl)"/>
<rect x="394" y="54.0" width="21" height="5.0" rx="2.5" fill="#0a0a0a" filter="url(#bl)"/>
<ellipse cx="376" cy="67.8" rx="8" ry="2.5" fill="#606060" filter="url(#bl2)"/>
<ellipse cx="402.5" cy="68" rx="8" ry="2.2" fill="#8c8e92" filter="url(#bl2)"/>
<rect x="422.40" y="37.40" width="53.20" height="14.00" fill="url(#wb1)" stroke="#111" stroke-width="1.6"/>
<ellipse cx="436" cy="45" rx="9.5" ry="2.1" fill="#222" filter="url(#bl2)"/>
<ellipse cx="455" cy="45.3" rx="4" ry="1.0" fill="#b8b8b8" filter="url(#bl)"/>
<rect x="422.40" y="57.30" width="53.20" height="13.10" fill="#f6f6f6" stroke="#111" stroke-width="1.6"/>
<path d="M423.5 64 C423.5 58.6 436 58.4 448 60.6 C460 58.4 474.5 58.6 474.5 64 C474.5 69.4 460 69.6 448 67.4 C436 69.6 423.5 69.4 423.5 64Z" fill="#050505" filter="url(#bl)"/>
<text x="328.20" y="116.64" font-size="11.5" fill="#000" font-weight="bold" style="stroke-width:0.35px">C</text>
<text x="393.30" y="115.45" font-size="7.65" style="stroke-width:0.321px">MLL-AF9 knockin</text>
<line x1="353.60" y1="121.70" x2="353.60" y2="218.40" stroke="#999" stroke-width="0.7"/>
<line x1="352.40" y1="218.40" x2="353.60" y2="218.40" stroke="#999" stroke-width="0.5"/>
<text x="350.00" y="220.16" font-size="4.9" text-anchor="end" style="stroke-width:0.206px">0</text>
<line x1="352.40" y1="202.45" x2="353.60" y2="202.45" stroke="#999" stroke-width="0.5"/>
<text x="350.00" y="204.21" font-size="4.9" text-anchor="end" style="stroke-width:0.206px">100</text>
<line x1="352.40" y1="186.50" x2="353.60" y2="186.50" stroke="#999" stroke-width="0.5"/>
<text x="350.00" y="188.26" font-size="4.9" text-anchor="end" style="stroke-width:0.206px">200</text>
<line x1="352.40" y1="170.55" x2="353.60" y2="170.55" stroke="#999" stroke-width="0.5"/>
<text x="350.00" y="172.31" font-size="4.9" text-anchor="end" style="stroke-width:0.206px">300</text>
<line x1="352.40" y1="154.60" x2="353.60" y2="154.60" stroke="#999" stroke-width="0.5"/>
<text x="350.00" y="156.36" font-size="4.9" text-anchor="end" style="stroke-width:0.206px">400</text>
<line x1="352.40" y1="138.65" x2="353.60" y2="138.65" stroke="#999" stroke-width="0.5"/>
<text x="350.00" y="140.41" font-size="4.9" text-anchor="end" style="stroke-width:0.206px">500</text>
<line x1="352.40" y1="122.70" x2="353.60" y2="122.70" stroke="#999" stroke-width="0.5"/>
<text x="350.00" y="124.46" font-size="4.9" text-anchor="end" style="stroke-width:0.206px">600</text>
<line x1="353.60" y1="218.40" x2="486.50" y2="218.40" stroke="#999" stroke-width="0.7"/>
<line x1="353.60" y1="218.40" x2="353.60" y2="221.90" stroke="#999" stroke-width="0.6"/>
<line x1="420.20" y1="218.40" x2="420.20" y2="221.90" stroke="#999" stroke-width="0.6"/>
<rect x="368.30" y="154.60" width="18.80" height="63.80" fill="#fff" stroke="#444" stroke-width="0.6"/>
<line x1="377.70" y1="150.61" x2="377.70" y2="158.59" stroke="#555" stroke-width="0.5"/>
<line x1="376.50" y1="150.61" x2="378.90" y2="150.61" stroke="#555" stroke-width="0.5"/>
<line x1="376.50" y1="158.59" x2="378.90" y2="158.59" stroke="#555" stroke-width="0.5"/>
<rect x="387.10" y="186.50" width="18.40" height="31.90" fill="#0a0a0a"/>
<line x1="396.30" y1="180.44" x2="396.30" y2="186.50" stroke="#555" stroke-width="0.5"/>
<line x1="395.10" y1="180.44" x2="397.50" y2="180.44" stroke="#555" stroke-width="0.5"/>
<rect x="434.40" y="138.65" width="19.20" height="79.75" fill="#fff" stroke="#444" stroke-width="0.6"/>
<line x1="444.00" y1="133.07" x2="444.00" y2="144.23" stroke="#555" stroke-width="0.5"/>
<line x1="442.80" y1="133.07" x2="445.20" y2="133.07" stroke="#555" stroke-width="0.5"/>
<line x1="442.80" y1="144.23" x2="445.20" y2="144.23" stroke="#555" stroke-width="0.5"/>
<rect x="453.60" y="134.66" width="19.10" height="83.74" fill="#0a0a0a"/>
<line x1="463.15" y1="132.27" x2="463.15" y2="134.66" stroke="#555" stroke-width="0.5"/>
<line x1="461.95" y1="132.27" x2="464.35" y2="132.27" stroke="#555" stroke-width="0.5"/>
<text x="396.30" y="178.30" font-size="7.5" text-anchor="middle" font-weight="bold" style="stroke-width:0.315px">*</text>
<text x="376.30" y="225.98" font-size="5.5" style="stroke-width:0.231px">f/f MSCV</text>
<text x="425.50" y="225.80" font-size="4.99" style="stroke-width:0.21px">f/f Meis1 overexpressed</text>
<text x="336.60" y="173.55" font-size="4.31" text-anchor="middle" style="stroke-width:0.181px" transform="rotate(-90 336.60 172.00)">Colonies/10,000 cells</text>
<rect x="356.90" y="123.80" width="2.10" height="2.10" fill="#fff" stroke="#333" stroke-width="0.45"/>
<text x="360.60" y="126.72" font-size="5.05" style="stroke-width:0.212px">Vehicle</text>
<rect x="356.80" y="131.10" width="2.30" height="2.30" fill="#0a0a0a"/>
<text x="360.40" y="133.98" font-size="4.67" style="stroke-width:0.196px">4-OHT</text>
<text x="0.90" y="255.74" font-size="11.5" fill="#000" font-weight="bold" style="stroke-width:0.35px">D</text>
<line x1="15.60" y1="265.90" x2="15.60" y2="360.50" stroke="#777" stroke-width="0.7"/>
<line x1="14.40" y1="360.50" x2="15.60" y2="360.50" stroke="#777" stroke-width="0.5"/>
<text x="13.00" y="362.12" font-size="4.5" text-anchor="end" style="stroke-width:0.189px">0</text>
<line x1="14.40" y1="347.13" x2="15.60" y2="347.13" stroke="#777" stroke-width="0.5"/>
<text x="13.00" y="348.75" font-size="4.5" text-anchor="end" style="stroke-width:0.189px">2</text>
<line x1="14.40" y1="333.76" x2="15.60" y2="333.76" stroke="#777" stroke-width="0.5"/>
<text x="13.00" y="335.38" font-size="4.5" text-anchor="end" style="stroke-width:0.189px">4</text>
<line x1="14.40" y1="320.39" x2="15.60" y2="320.39" stroke="#777" stroke-width="0.5"/>
<text x="13.00" y="322.01" font-size="4.5" text-anchor="end" style="stroke-width:0.189px">6</text>
<line x1="14.40" y1="307.01" x2="15.60" y2="307.01" stroke="#777" stroke-width="0.5"/>
<text x="13.00" y="308.63" font-size="4.5" text-anchor="end" style="stroke-width:0.189px">8</text>
<line x1="14.40" y1="293.64" x2="15.60" y2="293.64" stroke="#777" stroke-width="0.5"/>
<text x="13.00" y="295.26" font-size="4.5" text-anchor="end" style="stroke-width:0.189px">10</text>
<line x1="14.40" y1="280.27" x2="15.60" y2="280.27" stroke="#777" stroke-width="0.5"/>
<text x="13.00" y="281.89" font-size="4.5" text-anchor="end" style="stroke-width:0.189px">12</text>
<line x1="14.40" y1="266.90" x2="15.60" y2="266.90" stroke="#777" stroke-width="0.5"/>
<text x="13.00" y="268.52" font-size="4.5" text-anchor="end" style="stroke-width:0.189px">14</text>
<line x1="15.60" y1="360.50" x2="132.50" y2="360.50" stroke="#777" stroke-width="0.7"/>
<line x1="30.50" y1="360.50" x2="30.50" y2="361.70" stroke="#777" stroke-width="0.5"/>
<text x="30.50" y="366.67" font-size="3.8" text-anchor="middle" style="stroke-width:0.16px">d3</text>
<line x1="59.50" y1="360.50" x2="59.50" y2="361.70" stroke="#777" stroke-width="0.5"/>
<text x="59.50" y="366.67" font-size="3.8" text-anchor="middle" style="stroke-width:0.16px">d5</text>
<line x1="88.75" y1="360.50" x2="88.75" y2="361.70" stroke="#777" stroke-width="0.5"/>
<text x="88.75" y="366.67" font-size="3.8" text-anchor="middle" style="stroke-width:0.16px">d6</text>
<line x1="118.00" y1="360.50" x2="118.00" y2="361.70" stroke="#777" stroke-width="0.5"/>
<text x="118.00" y="366.67" font-size="3.8" text-anchor="middle" style="stroke-width:0.16px">d7</text>
<polyline points="30.50,357.16 59.50,347.13 88.75,319.05 118.00,278.27" fill="none" stroke="#444" stroke-width="1.0"/>
<circle cx="30.50" cy="357.16" r="1.40" fill="#fff" stroke="#444" stroke-width="0.55"/>
<circle cx="59.50" cy="347.13" r="1.40" fill="#fff" stroke="#444" stroke-width="0.55"/>
<circle cx="88.75" cy="319.05" r="1.40" fill="#fff" stroke="#444" stroke-width="0.55"/>
<circle cx="118.00" cy="278.27" r="1.40" fill="#fff" stroke="#444" stroke-width="0.55"/>
<polyline points="30.50,357.16 59.50,352.48 88.75,342.45 118.00,325.07" fill="none" stroke="#222" stroke-width="1.0"/>
<line x1="118.00" y1="321.05" x2="118.00" y2="329.08" stroke="#888" stroke-width="0.5"/>
<line x1="117.20" y1="321.05" x2="118.80" y2="321.05" stroke="#888" stroke-width="0.5"/>
<line x1="117.20" y1="329.08" x2="118.80" y2="329.08" stroke="#888" stroke-width="0.5"/>
<rect x="28.90" y="355.56" width="3.20" height="3.20" fill="#111"/>
<rect x="57.90" y="350.88" width="3.20" height="3.20" fill="#111"/>
<rect x="87.15" y="340.85" width="3.20" height="3.20" fill="#111"/>
<rect x="116.40" y="323.47" width="3.20" height="3.20" fill="#111"/>
<polyline points="30.50,357.16 59.50,355.15 88.75,348.47 118.00,347.80" fill="none" stroke="#222" stroke-width="1.0"/>
<circle cx="30.50" cy="357.16" r="1.60" fill="#111"/>
<circle cx="59.50" cy="355.15" r="1.60" fill="#111"/>
<circle cx="88.75" cy="348.47" r="1.60" fill="#111"/>
<circle cx="118.00" cy="347.80" r="1.60" fill="#111"/>
<text x="118.00" y="321.62" font-size="7" text-anchor="middle" font-weight="bold" style="stroke-width:0.294px">*</text>
<text x="118.00" y="346.12" font-size="7" text-anchor="middle" font-weight="bold" style="stroke-width:0.294px">*</text>
<text x="55.60" y="253.24" font-size="6.23" style="stroke-width:0.262px">MV4;11</text>
<line x1="18.30" y1="270.20" x2="25.60" y2="270.20" stroke="#222" stroke-width="0.6"/>
<circle cx="21.95" cy="270.20" r="1.20" fill="#fff" stroke="#333" stroke-width="0.5"/>
<text x="26.10" y="271.80" font-size="4.45" style="stroke-width:0.187px">NT shRNA</text>
<line x1="18.30" y1="274.30" x2="25.60" y2="274.30" stroke="#222" stroke-width="0.6"/>
<circle cx="21.95" cy="274.30" r="1.45" fill="#111"/>
<text x="26.10" y="275.90" font-size="4.45" style="stroke-width:0.187px">MEIS1 shRNA 1</text>
<line x1="18.30" y1="278.80" x2="25.60" y2="278.80" stroke="#222" stroke-width="0.6"/>
<rect x="20.65" y="277.50" width="2.60" height="2.60" fill="#111"/>
<text x="26.10" y="280.40" font-size="4.45" style="stroke-width:0.187px">MEIS1 shRNA 2</text>
<text x="3.90" y="316.65" font-size="4.04" text-anchor="middle" style="stroke-width:0.17px" transform="rotate(-90 3.90 315.20)">X10,000 (cells/ml)</text>
<text x="54.00" y="374.26" font-size="4.61" style="stroke-width:0.194px">Days post selection</text>
<line x1="150.40" y1="266.20" x2="150.40" y2="360.80" stroke="#777" stroke-width="0.7"/>
<line x1="149.20" y1="360.80" x2="150.40" y2="360.80" stroke="#777" stroke-width="0.5"/>
<text x="147.80" y="362.35" font-size="4.3" text-anchor="end" style="stroke-width:0.181px">0</text>
<line x1="149.20" y1="345.20" x2="150.40" y2="345.20" stroke="#777" stroke-width="0.5"/>
<text x="147.80" y="346.75" font-size="4.3" text-anchor="end" style="stroke-width:0.181px">1</text>
<line x1="149.20" y1="329.60" x2="150.40" y2="329.60" stroke="#777" stroke-width="0.5"/>
<text x="147.80" y="331.15" font-size="4.3" text-anchor="end" style="stroke-width:0.181px">2</text>
<line x1="149.20" y1="314.00" x2="150.40" y2="314.00" stroke="#777" stroke-width="0.5"/>
<text x="147.80" y="315.55" font-size="4.3" text-anchor="end" style="stroke-width:0.181px">3</text>
<line x1="149.20" y1="298.40" x2="150.40" y2="298.40" stroke="#777" stroke-width="0.5"/>
<text x="147.80" y="299.95" font-size="4.3" text-anchor="end" style="stroke-width:0.181px">4</text>
<line x1="149.20" y1="282.80" x2="150.40" y2="282.80" stroke="#777" stroke-width="0.5"/>
<text x="147.80" y="284.35" font-size="4.3" text-anchor="end" style="stroke-width:0.181px">5</text>
<line x1="149.20" y1="267.20" x2="150.40" y2="267.20" stroke="#777" stroke-width="0.5"/>
<text x="147.80" y="268.75" font-size="4.3" text-anchor="end" style="stroke-width:0.181px">6</text>
<line x1="150.40" y1="360.80" x2="262.00" y2="360.80" stroke="#777" stroke-width="0.7"/>
<line x1="164.50" y1="360.80" x2="164.50" y2="362.00" stroke="#777" stroke-width="0.5"/>
<text x="164.50" y="366.97" font-size="3.8" text-anchor="middle" style="stroke-width:0.16px">d3</text>
<line x1="191.75" y1="360.80" x2="191.75" y2="362.00" stroke="#777" stroke-width="0.5"/>
<text x="191.75" y="366.97" font-size="3.8" text-anchor="middle" style="stroke-width:0.16px">d4</text>
<line x1="218.75" y1="360.80" x2="218.75" y2="362.00" stroke="#777" stroke-width="0.5"/>
<text x="218.75" y="366.97" font-size="3.8" text-anchor="middle" style="stroke-width:0.16px">d5</text>
<line x1="245.00" y1="360.80" x2="245.00" y2="362.00" stroke="#777" stroke-width="0.5"/>
<text x="245.00" y="366.97" font-size="3.8" text-anchor="middle" style="stroke-width:0.16px">d7</text>
<polyline points="164.50,345.20 191.75,315.56 218.75,304.64 245.00,281.24" fill="none" stroke="#444" stroke-width="1.0"/>
<line x1="191.75" y1="308.54" x2="191.75" y2="322.58" stroke="#888" stroke-width="0.5"/>
<line x1="190.95" y1="308.54" x2="192.55" y2="308.54" stroke="#888" stroke-width="0.5"/>
<line x1="190.95" y1="322.58" x2="192.55" y2="322.58" stroke="#888" stroke-width="0.5"/>
<line x1="218.75" y1="299.96" x2="218.75" y2="309.32" stroke="#888" stroke-width="0.5"/>
<line x1="217.95" y1="299.96" x2="219.55" y2="299.96" stroke="#888" stroke-width="0.5"/>
<line x1="217.95" y1="309.32" x2="219.55" y2="309.32" stroke="#888" stroke-width="0.5"/>
<line x1="245.00" y1="276.56" x2="245.00" y2="285.92" stroke="#888" stroke-width="0.5"/>
<line x1="244.20" y1="276.56" x2="245.80" y2="276.56" stroke="#888" stroke-width="0.5"/>
<line x1="244.20" y1="285.92" x2="245.80" y2="285.92" stroke="#888" stroke-width="0.5"/>
<circle cx="164.50" cy="345.20" r="1.40" fill="#fff" stroke="#444" stroke-width="0.55"/>
<circle cx="191.75" cy="315.56" r="1.40" fill="#fff" stroke="#444" stroke-width="0.55"/>
<circle cx="218.75" cy="304.64" r="1.40" fill="#fff" stroke="#444" stroke-width="0.55"/>
<circle cx="245.00" cy="281.24" r="1.40" fill="#fff" stroke="#444" stroke-width="0.55"/>
<polyline points="164.50,345.20 191.75,321.80 218.75,311.66 245.00,299.96" fill="none" stroke="#222" stroke-width="1.0"/>
<line x1="218.75" y1="306.98" x2="218.75" y2="316.34" stroke="#888" stroke-width="0.5"/>
<line x1="217.95" y1="306.98" x2="219.55" y2="306.98" stroke="#888" stroke-width="0.5"/>
<line x1="217.95" y1="316.34" x2="219.55" y2="316.34" stroke="#888" stroke-width="0.5"/>
<line x1="245.00" y1="296.84" x2="245.00" y2="303.08" stroke="#888" stroke-width="0.5"/>
<line x1="244.20" y1="296.84" x2="245.80" y2="296.84" stroke="#888" stroke-width="0.5"/>
<line x1="244.20" y1="303.08" x2="245.80" y2="303.08" stroke="#888" stroke-width="0.5"/>
<rect x="162.90" y="343.60" width="3.20" height="3.20" fill="#111"/>
<rect x="190.15" y="320.20" width="3.20" height="3.20" fill="#111"/>
<rect x="217.15" y="310.06" width="3.20" height="3.20" fill="#111"/>
<rect x="243.40" y="298.36" width="3.20" height="3.20" fill="#111"/>
<polyline points="164.50,345.20 191.75,332.72 218.75,328.04 245.00,325.70" fill="none" stroke="#222" stroke-width="1.0"/>
<line x1="218.75" y1="324.92" x2="218.75" y2="331.16" stroke="#888" stroke-width="0.5"/>
<line x1="217.95" y1="324.92" x2="219.55" y2="324.92" stroke="#888" stroke-width="0.5"/>
<line x1="217.95" y1="331.16" x2="219.55" y2="331.16" stroke="#888" stroke-width="0.5"/>
<line x1="245.00" y1="323.36" x2="245.00" y2="328.04" stroke="#888" stroke-width="0.5"/>
<line x1="244.20" y1="323.36" x2="245.80" y2="323.36" stroke="#888" stroke-width="0.5"/>
<line x1="244.20" y1="328.04" x2="245.80" y2="328.04" stroke="#888" stroke-width="0.5"/>
<circle cx="164.50" cy="345.20" r="1.60" fill="#111"/>
<circle cx="191.75" cy="332.72" r="1.60" fill="#111"/>
<circle cx="218.75" cy="328.04" r="1.60" fill="#111"/>
<circle cx="245.00" cy="325.70" r="1.60" fill="#111"/>
<text x="245.00" y="323.42" font-size="7" text-anchor="middle" font-weight="bold" style="stroke-width:0.294px">*</text>
<text x="198.50" y="253.28" font-size="5.78" style="stroke-width:0.243px">THP-1</text>
<line x1="152.50" y1="270.70" x2="159.00" y2="270.70" stroke="#222" stroke-width="0.6"/>
<circle cx="155.75" cy="270.70" r="1.20" fill="#fff" stroke="#333" stroke-width="0.5"/>
<text x="159.60" y="272.10" font-size="3.9" style="stroke-width:0.164px">NT shRNA</text>
<line x1="152.50" y1="275.60" x2="159.00" y2="275.60" stroke="#222" stroke-width="0.6"/>
<circle cx="155.75" cy="275.60" r="1.45" fill="#111"/>
<text x="159.60" y="277.00" font-size="3.9" style="stroke-width:0.164px">MEIS1 shRNA 1</text>
<line x1="152.50" y1="280.50" x2="159.00" y2="280.50" stroke="#222" stroke-width="0.6"/>
<rect x="154.45" y="279.20" width="2.60" height="2.60" fill="#111"/>
<text x="159.60" y="281.90" font-size="3.9" style="stroke-width:0.164px">MEIS1 shRNA 2</text>
<text x="138.70" y="318.62" font-size="4.23" text-anchor="middle" style="stroke-width:0.178px" transform="rotate(-90 138.70 317.10)">X 10, 000 cells/ml</text>
<text x="186.00" y="375.45" font-size="4.04" style="stroke-width:0.17px">Days post selection</text>
<line x1="276.90" y1="266.20" x2="276.90" y2="359.50" stroke="#777" stroke-width="0.7"/>
<line x1="275.70" y1="359.50" x2="276.90" y2="359.50" stroke="#777" stroke-width="0.5"/>
<text x="274.30" y="360.94" font-size="4.0" text-anchor="end" style="stroke-width:0.168px">0.0</text>
<line x1="275.70" y1="347.96" x2="276.90" y2="347.96" stroke="#777" stroke-width="0.5"/>
<text x="274.30" y="349.40" font-size="4.0" text-anchor="end" style="stroke-width:0.168px">0.5</text>
<line x1="275.70" y1="336.43" x2="276.90" y2="336.43" stroke="#777" stroke-width="0.5"/>
<text x="274.30" y="337.87" font-size="4.0" text-anchor="end" style="stroke-width:0.168px">1.0</text>
<line x1="275.70" y1="324.89" x2="276.90" y2="324.89" stroke="#777" stroke-width="0.5"/>
<text x="274.30" y="326.33" font-size="4.0" text-anchor="end" style="stroke-width:0.168px">1.5</text>
<line x1="275.70" y1="313.35" x2="276.90" y2="313.35" stroke="#777" stroke-width="0.5"/>
<text x="274.30" y="314.79" font-size="4.0" text-anchor="end" style="stroke-width:0.168px">2.0</text>
<line x1="275.70" y1="301.81" x2="276.90" y2="301.81" stroke="#777" stroke-width="0.5"/>
<text x="274.30" y="303.25" font-size="4.0" text-anchor="end" style="stroke-width:0.168px">2.5</text>
<line x1="275.70" y1="290.27" x2="276.90" y2="290.27" stroke="#777" stroke-width="0.5"/>
<text x="274.30" y="291.71" font-size="4.0" text-anchor="end" style="stroke-width:0.168px">3.0</text>
<line x1="275.70" y1="278.74" x2="276.90" y2="278.74" stroke="#777" stroke-width="0.5"/>
<text x="274.30" y="280.18" font-size="4.0" text-anchor="end" style="stroke-width:0.168px">3.5</text>
<line x1="275.70" y1="267.20" x2="276.90" y2="267.20" stroke="#777" stroke-width="0.5"/>
<text x="274.30" y="268.64" font-size="4.0" text-anchor="end" style="stroke-width:0.168px">4.0</text>
<line x1="276.90" y1="359.50" x2="382.00" y2="359.50" stroke="#777" stroke-width="0.7"/>
<line x1="295.50" y1="359.50" x2="295.50" y2="360.70" stroke="#777" stroke-width="0.5"/>
<text x="295.50" y="365.67" font-size="3.8" text-anchor="middle" style="stroke-width:0.16px">d2</text>
<line x1="331.00" y1="359.50" x2="331.00" y2="360.70" stroke="#777" stroke-width="0.5"/>
<text x="331.00" y="365.67" font-size="3.8" text-anchor="middle" style="stroke-width:0.16px">d4</text>
<line x1="367.50" y1="359.50" x2="367.50" y2="360.70" stroke="#777" stroke-width="0.5"/>
<text x="367.50" y="365.67" font-size="3.8" text-anchor="middle" style="stroke-width:0.16px">d7</text>
<polyline points="295.50,347.96 331.00,342.89 367.50,283.35" fill="none" stroke="#888" stroke-width="1.0"/>
<line x1="331.00" y1="335.96" x2="331.00" y2="349.81" stroke="#888" stroke-width="0.5"/>
<line x1="330.20" y1="335.96" x2="331.80" y2="335.96" stroke="#888" stroke-width="0.5"/>
<line x1="330.20" y1="349.81" x2="331.80" y2="349.81" stroke="#888" stroke-width="0.5"/>
<line x1="367.50" y1="277.58" x2="367.50" y2="289.12" stroke="#888" stroke-width="0.5"/>
<line x1="366.70" y1="277.58" x2="368.30" y2="277.58" stroke="#888" stroke-width="0.5"/>
<line x1="366.70" y1="289.12" x2="368.30" y2="289.12" stroke="#888" stroke-width="0.5"/>
<circle cx="295.50" cy="347.96" r="1.40" fill="#fff" stroke="#888" stroke-width="0.55"/>
<circle cx="331.00" cy="342.89" r="1.40" fill="#fff" stroke="#888" stroke-width="0.55"/>
<circle cx="367.50" cy="283.35" r="1.40" fill="#fff" stroke="#888" stroke-width="0.55"/>
<polyline points="295.50,347.96 331.00,352.58 367.50,354.88" fill="none" stroke="#222" stroke-width="1.0"/>
<circle cx="295.50" cy="347.96" r="1.60" fill="#111"/>
<circle cx="331.00" cy="352.58" r="1.60" fill="#111"/>
<circle cx="367.50" cy="354.88" r="1.60" fill="#111"/>
<text x="367.50" y="353.62" font-size="7" text-anchor="middle" font-weight="bold" style="stroke-width:0.294px">*</text>
<text x="311.20" y="253.58" font-size="6.05" style="stroke-width:0.254px">CB-MA9.3NRas</text>
<line x1="278.30" y1="270.40" x2="285.20" y2="270.40" stroke="#222" stroke-width="0.6"/>
<circle cx="281.75" cy="270.40" r="1.20" fill="#fff" stroke="#333" stroke-width="0.5"/>
<text x="285.50" y="271.81" font-size="3.93" style="stroke-width:0.165px">NT shRNA</text>
<line x1="278.30" y1="276.10" x2="285.20" y2="276.10" stroke="#222" stroke-width="0.6"/>
<circle cx="281.75" cy="276.10" r="1.45" fill="#111"/>
<text x="285.50" y="277.51" font-size="3.93" style="stroke-width:0.165px">MEIS1 shRNA 1</text>
<text x="262.70" y="319.65" font-size="4.04" text-anchor="middle" style="stroke-width:0.17px" transform="rotate(-90 262.70 318.20)">Colonies x 100</text>
<text x="310.00" y="374.16" font-size="4.33" style="stroke-width:0.182px">Days post selection</text>
<line x1="409.40" y1="266.20" x2="409.40" y2="359.50" stroke="#777" stroke-width="0.7"/>
<line x1="408.20" y1="359.50" x2="409.40" y2="359.50" stroke="#777" stroke-width="0.5"/>
<text x="406.80" y="360.90" font-size="3.9" text-anchor="end" style="stroke-width:0.164px">0</text>
<line x1="408.20" y1="347.96" x2="409.40" y2="347.96" stroke="#777" stroke-width="0.5"/>
<text x="406.80" y="349.37" font-size="3.9" text-anchor="end" style="stroke-width:0.164px">0.2</text>
<line x1="408.20" y1="336.43" x2="409.40" y2="336.43" stroke="#777" stroke-width="0.5"/>
<text x="406.80" y="337.83" font-size="3.9" text-anchor="end" style="stroke-width:0.164px">0.4</text>
<line x1="408.20" y1="324.89" x2="409.40" y2="324.89" stroke="#777" stroke-width="0.5"/>
<text x="406.80" y="326.29" font-size="3.9" text-anchor="end" style="stroke-width:0.164px">0.6</text>
<line x1="408.20" y1="313.35" x2="409.40" y2="313.35" stroke="#777" stroke-width="0.5"/>
<text x="406.80" y="314.75" font-size="3.9" text-anchor="end" style="stroke-width:0.164px">0.8</text>
<line x1="408.20" y1="301.81" x2="409.40" y2="301.81" stroke="#777" stroke-width="0.5"/>
<text x="406.80" y="303.22" font-size="3.9" text-anchor="end" style="stroke-width:0.164px">1</text>
<line x1="408.20" y1="290.27" x2="409.40" y2="290.27" stroke="#777" stroke-width="0.5"/>
<text x="406.80" y="291.68" font-size="3.9" text-anchor="end" style="stroke-width:0.164px">1.2</text>
<line x1="408.20" y1="278.74" x2="409.40" y2="278.74" stroke="#777" stroke-width="0.5"/>
<text x="406.80" y="280.14" font-size="3.9" text-anchor="end" style="stroke-width:0.164px">1.4</text>
<line x1="408.20" y1="267.20" x2="409.40" y2="267.20" stroke="#777" stroke-width="0.5"/>
<text x="406.80" y="268.60" font-size="3.9" text-anchor="end" style="stroke-width:0.164px">1.6</text>
<line x1="409.40" y1="359.50" x2="520.00" y2="359.50" stroke="#777" stroke-width="0.7"/>
<line x1="428.10" y1="359.50" x2="428.10" y2="360.70" stroke="#777" stroke-width="0.5"/>
<text x="428.10" y="365.67" font-size="3.8" text-anchor="middle" style="stroke-width:0.16px">d3</text>
<line x1="464.40" y1="359.50" x2="464.40" y2="360.70" stroke="#777" stroke-width="0.5"/>
<text x="464.40" y="365.67" font-size="3.8" text-anchor="middle" style="stroke-width:0.16px">d5</text>
<line x1="501.40" y1="359.50" x2="501.40" y2="360.70" stroke="#777" stroke-width="0.5"/>
<text x="501.40" y="365.67" font-size="3.8" text-anchor="middle" style="stroke-width:0.16px">d7</text>
<polyline points="428.10,330.66 464.40,302.97 501.40,278.74" fill="none" stroke="#888" stroke-width="1.0"/>
<line x1="464.40" y1="296.04" x2="464.40" y2="309.89" stroke="#888" stroke-width="0.5"/>
<line x1="463.60" y1="296.04" x2="465.20" y2="296.04" stroke="#888" stroke-width="0.5"/>
<line x1="463.60" y1="309.89" x2="465.20" y2="309.89" stroke="#888" stroke-width="0.5"/>
<line x1="501.40" y1="271.81" x2="501.40" y2="285.66" stroke="#888" stroke-width="0.5"/>
<line x1="500.60" y1="271.81" x2="502.20" y2="271.81" stroke="#888" stroke-width="0.5"/>
<line x1="500.60" y1="285.66" x2="502.20" y2="285.66" stroke="#888" stroke-width="0.5"/>
<circle cx="428.10" cy="330.66" r="1.40" fill="#fff" stroke="#888" stroke-width="0.55"/>
<circle cx="464.40" cy="302.97" r="1.40" fill="#fff" stroke="#888" stroke-width="0.55"/>
<circle cx="501.40" cy="278.74" r="1.40" fill="#fff" stroke="#888" stroke-width="0.55"/>
<polyline points="428.10,330.66 464.40,327.77 501.40,298.93" fill="none" stroke="#222" stroke-width="1.0"/>
<line x1="464.40" y1="323.16" x2="464.40" y2="332.39" stroke="#888" stroke-width="0.5"/>
<line x1="463.60" y1="323.16" x2="465.20" y2="323.16" stroke="#888" stroke-width="0.5"/>
<line x1="463.60" y1="332.39" x2="465.20" y2="332.39" stroke="#888" stroke-width="0.5"/>
<line x1="501.40" y1="294.31" x2="501.40" y2="303.54" stroke="#888" stroke-width="0.5"/>
<line x1="500.60" y1="294.31" x2="502.20" y2="294.31" stroke="#888" stroke-width="0.5"/>
<line x1="500.60" y1="303.54" x2="502.20" y2="303.54" stroke="#888" stroke-width="0.5"/>
<circle cx="428.10" cy="330.66" r="1.60" fill="#111"/>
<circle cx="464.40" cy="327.77" r="1.60" fill="#111"/>
<circle cx="501.40" cy="298.93" r="1.60" fill="#111"/>
<text x="501.40" y="295.12" font-size="7" text-anchor="middle" font-weight="bold" style="stroke-width:0.294px">*</text>
<text x="453.80" y="253.56" font-size="6.01" style="stroke-width:0.252px">Kasumi-1</text>
<line x1="410.60" y1="270.70" x2="417.50" y2="270.70" stroke="#222" stroke-width="0.6"/>
<circle cx="414.05" cy="270.70" r="1.20" fill="#fff" stroke="#333" stroke-width="0.5"/>
<text x="417.80" y="272.11" font-size="3.93" style="stroke-width:0.165px">NT shRNA</text>
<line x1="410.60" y1="276.80" x2="417.50" y2="276.80" stroke="#222" stroke-width="0.6"/>
<circle cx="414.05" cy="276.80" r="1.45" fill="#111"/>
<text x="417.80" y="278.21" font-size="3.93" style="stroke-width:0.165px">MEIS1 shRNA 1</text>
<text x="395.10" y="321.15" font-size="4.02" text-anchor="middle" style="stroke-width:0.169px" transform="rotate(-90 395.10 319.70)">X 10, 000 Cells/ml</text>
<text x="446.00" y="372.69" font-size="4.15" style="stroke-width:0.174px">Days post selection</text>
<text x="0.90" y="393.34" font-size="11.5" fill="#000" font-weight="bold" style="stroke-width:0.35px">E</text>
<line x1="23.40" y1="399.70" x2="23.40" y2="493.00" stroke="#777" stroke-width="0.7"/>
<line x1="22.20" y1="493.00" x2="23.40" y2="493.00" stroke="#777" stroke-width="0.5"/>
<text x="20.80" y="494.58" font-size="4.4" text-anchor="end" style="stroke-width:0.185px">0</text>
<line x1="22.20" y1="483.77" x2="23.40" y2="483.77" stroke="#777" stroke-width="0.5"/>
<text x="20.80" y="485.35" font-size="4.4" text-anchor="end" style="stroke-width:0.185px">5</text>
<line x1="22.20" y1="474.54" x2="23.40" y2="474.54" stroke="#777" stroke-width="0.5"/>
<text x="20.80" y="476.12" font-size="4.4" text-anchor="end" style="stroke-width:0.185px">10</text>
<line x1="22.20" y1="465.31" x2="23.40" y2="465.31" stroke="#777" stroke-width="0.5"/>
<text x="20.80" y="466.89" font-size="4.4" text-anchor="end" style="stroke-width:0.185px">15</text>
<line x1="22.20" y1="456.08" x2="23.40" y2="456.08" stroke="#777" stroke-width="0.5"/>
<text x="20.80" y="457.66" font-size="4.4" text-anchor="end" style="stroke-width:0.185px">20</text>
<line x1="22.20" y1="446.85" x2="23.40" y2="446.85" stroke="#777" stroke-width="0.5"/>
<text x="20.80" y="448.43" font-size="4.4" text-anchor="end" style="stroke-width:0.185px">25</text>
<line x1="22.20" y1="437.62" x2="23.40" y2="437.62" stroke="#777" stroke-width="0.5"/>
<text x="20.80" y="439.20" font-size="4.4" text-anchor="end" style="stroke-width:0.185px">30</text>
<line x1="22.20" y1="428.39" x2="23.40" y2="428.39" stroke="#777" stroke-width="0.5"/>
<text x="20.80" y="429.97" font-size="4.4" text-anchor="end" style="stroke-width:0.185px">35</text>
<line x1="22.20" y1="419.16" x2="23.40" y2="419.16" stroke="#777" stroke-width="0.5"/>
<text x="20.80" y="420.74" font-size="4.4" text-anchor="end" style="stroke-width:0.185px">40</text>
<line x1="22.20" y1="409.93" x2="23.40" y2="409.93" stroke="#777" stroke-width="0.5"/>
<text x="20.80" y="411.51" font-size="4.4" text-anchor="end" style="stroke-width:0.185px">45</text>
<line x1="22.20" y1="400.70" x2="23.40" y2="400.70" stroke="#777" stroke-width="0.5"/>
<text x="20.80" y="402.28" font-size="4.4" text-anchor="end" style="stroke-width:0.185px">50</text>
<line x1="23.40" y1="493.00" x2="155.70" y2="493.00" stroke="#777" stroke-width="0.7"/>
<line x1="40.50" y1="493.00" x2="40.50" y2="494.20" stroke="#777" stroke-width="0.5"/>
<text x="40.50" y="499.67" font-size="3.8" text-anchor="middle" style="stroke-width:0.16px">d0</text>
<line x1="72.90" y1="493.00" x2="72.90" y2="494.20" stroke="#777" stroke-width="0.5"/>
<text x="72.90" y="499.67" font-size="3.8" text-anchor="middle" style="stroke-width:0.16px">d2</text>
<line x1="106.00" y1="493.00" x2="106.00" y2="494.20" stroke="#777" stroke-width="0.5"/>
<text x="106.00" y="499.67" font-size="3.8" text-anchor="middle" style="stroke-width:0.16px">d4</text>
<line x1="139.00" y1="493.00" x2="139.00" y2="494.20" stroke="#777" stroke-width="0.5"/>
<text x="139.00" y="499.67" font-size="3.8" text-anchor="middle" style="stroke-width:0.16px">d6</text>
<polyline points="40.50,456.08 72.90,435.77 106.00,423.77 139.00,419.16" fill="none" stroke="#333" stroke-width="1.0"/>
<line x1="106.00" y1="421.56" x2="106.00" y2="425.99" stroke="#888" stroke-width="0.5"/>
<line x1="105.20" y1="421.56" x2="106.80" y2="421.56" stroke="#888" stroke-width="0.5"/>
<line x1="105.20" y1="425.99" x2="106.80" y2="425.99" stroke="#888" stroke-width="0.5"/>
<line x1="139.00" y1="413.62" x2="139.00" y2="424.70" stroke="#888" stroke-width="0.5"/>
<line x1="138.20" y1="413.62" x2="139.80" y2="413.62" stroke="#888" stroke-width="0.5"/>
<line x1="138.20" y1="424.70" x2="139.80" y2="424.70" stroke="#888" stroke-width="0.5"/>
<circle cx="40.50" cy="456.08" r="1.40" fill="#fff" stroke="#333" stroke-width="0.55"/>
<circle cx="72.90" cy="435.77" r="1.40" fill="#fff" stroke="#333" stroke-width="0.55"/>
<circle cx="106.00" cy="423.77" r="1.40" fill="#fff" stroke="#333" stroke-width="0.55"/>
<circle cx="139.00" cy="419.16" r="1.40" fill="#fff" stroke="#333" stroke-width="0.55"/>
<polyline points="40.50,456.08 72.90,445.00 106.00,427.47 139.00,424.70" fill="none" stroke="#333" stroke-width="1.0"/>
<circle cx="40.50" cy="456.08" r="1.60" fill="#fff" stroke="#333" stroke-width="0.55"/>
<circle cx="72.90" cy="445.00" r="1.60" fill="#fff" stroke="#333" stroke-width="0.55"/>
<circle cx="106.00" cy="427.47" r="1.60" fill="#fff" stroke="#333" stroke-width="0.55"/>
<circle cx="139.00" cy="424.70" r="1.60" fill="#fff" stroke="#333" stroke-width="0.55"/>
<polyline points="40.50,456.08 72.90,447.22 106.00,454.23 139.00,460.69" fill="none" stroke="#222" stroke-width="1.0"/>
<rect x="39.05" y="454.63" width="2.90" height="2.90" fill="#111"/>
<rect x="71.45" y="445.77" width="2.90" height="2.90" fill="#111"/>
<rect x="104.55" y="452.78" width="2.90" height="2.90" fill="#111"/>
<rect x="137.55" y="459.25" width="2.90" height="2.90" fill="#111"/>
<text x="145.50" y="467.12" font-size="7" text-anchor="middle" font-weight="bold" style="stroke-width:0.294px">*</text>
<text x="71.00" y="396.65" font-size="7.35" style="stroke-width:0.309px">Patient 1</text>
<line x1="27.50" y1="406.40" x2="35.60" y2="406.40" stroke="#222" stroke-width="0.6"/>
<circle cx="31.55" cy="406.40" r="1.20" fill="#fff" stroke="#333" stroke-width="0.5"/>
<text x="35.80" y="408.15" font-size="4.85" style="stroke-width:0.204px">Parent</text>
<line x1="27.50" y1="411.30" x2="35.60" y2="411.30" stroke="#222" stroke-width="0.6"/>
<circle cx="31.55" cy="411.30" r="1.20" fill="#fff" stroke="#333" stroke-width="0.5"/>
<text x="35.80" y="413.05" font-size="4.85" style="stroke-width:0.204px">NT shRNA</text>
<line x1="27.50" y1="416.60" x2="35.60" y2="416.60" stroke="#222" stroke-width="0.6"/>
<circle cx="31.55" cy="416.60" r="1.45" fill="#111"/>
<text x="35.80" y="418.35" font-size="4.85" style="stroke-width:0.204px">MEIS1 shRNA</text>
<text x="7.40" y="449.51" font-size="4.2" text-anchor="middle" style="stroke-width:0.176px" transform="rotate(-90 7.40 448.00)">X10, 000 cells/ml</text>
<text x="69.00" y="506.34" font-size="4.84" style="stroke-width:0.203px">Days post selection</text>
<line x1="178.80" y1="401.50" x2="178.80" y2="494.00" stroke="#777" stroke-width="0.7"/>
<line x1="177.60" y1="494.00" x2="178.80" y2="494.00" stroke="#777" stroke-width="0.5"/>
<text x="176.20" y="495.58" font-size="4.4" text-anchor="end" style="stroke-width:0.185px">0</text>
<line x1="177.60" y1="484.85" x2="178.80" y2="484.85" stroke="#777" stroke-width="0.5"/>
<text x="176.20" y="486.43" font-size="4.4" text-anchor="end" style="stroke-width:0.185px">5</text>
<line x1="177.60" y1="475.70" x2="178.80" y2="475.70" stroke="#777" stroke-width="0.5"/>
<text x="176.20" y="477.28" font-size="4.4" text-anchor="end" style="stroke-width:0.185px">10</text>
<line x1="177.60" y1="466.55" x2="178.80" y2="466.55" stroke="#777" stroke-width="0.5"/>
<text x="176.20" y="468.13" font-size="4.4" text-anchor="end" style="stroke-width:0.185px">15</text>
<line x1="177.60" y1="457.40" x2="178.80" y2="457.40" stroke="#777" stroke-width="0.5"/>
<text x="176.20" y="458.98" font-size="4.4" text-anchor="end" style="stroke-width:0.185px">20</text>
<line x1="177.60" y1="448.25" x2="178.80" y2="448.25" stroke="#777" stroke-width="0.5"/>
<text x="176.20" y="449.83" font-size="4.4" text-anchor="end" style="stroke-width:0.185px">25</text>
<line x1="177.60" y1="439.10" x2="178.80" y2="439.10" stroke="#777" stroke-width="0.5"/>
<text x="176.20" y="440.68" font-size="4.4" text-anchor="end" style="stroke-width:0.185px">30</text>
<line x1="177.60" y1="429.95" x2="178.80" y2="429.95" stroke="#777" stroke-width="0.5"/>
<text x="176.20" y="431.53" font-size="4.4" text-anchor="end" style="stroke-width:0.185px">35</text>
<line x1="177.60" y1="420.80" x2="178.80" y2="420.80" stroke="#777" stroke-width="0.5"/>
<text x="176.20" y="422.38" font-size="4.4" text-anchor="end" style="stroke-width:0.185px">40</text>
<line x1="177.60" y1="411.65" x2="178.80" y2="411.65" stroke="#777" stroke-width="0.5"/>
<text x="176.20" y="413.23" font-size="4.4" text-anchor="end" style="stroke-width:0.185px">45</text>
<line x1="177.60" y1="402.50" x2="178.80" y2="402.50" stroke="#777" stroke-width="0.5"/>
<text x="176.20" y="404.08" font-size="4.4" text-anchor="end" style="stroke-width:0.185px">50</text>
<line x1="178.80" y1="494.00" x2="301.00" y2="494.00" stroke="#777" stroke-width="0.7"/>
<line x1="200.20" y1="494.00" x2="200.20" y2="495.20" stroke="#777" stroke-width="0.5"/>
<text x="200.20" y="499.87" font-size="3.8" text-anchor="middle" style="stroke-width:0.16px">d0</text>
<line x1="242.50" y1="494.00" x2="242.50" y2="495.20" stroke="#777" stroke-width="0.5"/>
<text x="242.50" y="499.87" font-size="3.8" text-anchor="middle" style="stroke-width:0.16px">d4</text>
<line x1="285.30" y1="494.00" x2="285.30" y2="495.20" stroke="#777" stroke-width="0.5"/>
<text x="285.30" y="499.87" font-size="3.8" text-anchor="middle" style="stroke-width:0.16px">d9</text>
<polyline points="200.20,442.76 242.50,419.88 285.30,411.65" fill="none" stroke="#333" stroke-width="1.0"/>
<rect x="199.20" y="441.76" width="2.00" height="2.00" fill="#fff" stroke="#444" stroke-width="0.5"/>
<rect x="241.50" y="418.88" width="2.00" height="2.00" fill="#fff" stroke="#444" stroke-width="0.5"/>
<rect x="284.30" y="410.65" width="2.00" height="2.00" fill="#fff" stroke="#444" stroke-width="0.5"/>
<polyline points="200.20,442.76 242.50,420.80 285.30,429.03" fill="none" stroke="#333" stroke-width="1.0"/>
<rect x="199.20" y="441.76" width="2.00" height="2.00" fill="#fff" stroke="#444" stroke-width="0.5"/>
<rect x="241.50" y="419.80" width="2.00" height="2.00" fill="#fff" stroke="#444" stroke-width="0.5"/>
<rect x="284.30" y="428.03" width="2.00" height="2.00" fill="#fff" stroke="#444" stroke-width="0.5"/>
<polyline points="200.20,442.76 242.50,472.04 285.30,482.11" fill="none" stroke="#222" stroke-width="1.0"/>
<line x1="242.50" y1="469.84" x2="242.50" y2="474.24" stroke="#888" stroke-width="0.5"/>
<line x1="241.70" y1="469.84" x2="243.30" y2="469.84" stroke="#888" stroke-width="0.5"/>
<line x1="241.70" y1="474.24" x2="243.30" y2="474.24" stroke="#888" stroke-width="0.5"/>
<rect x="199.00" y="441.56" width="2.40" height="2.40" fill="#111"/>
<rect x="241.30" y="470.84" width="2.40" height="2.40" fill="#111"/>
<rect x="284.10" y="480.91" width="2.40" height="2.40" fill="#111"/>
<text x="291.50" y="488.12" font-size="7" text-anchor="middle" font-weight="bold" style="stroke-width:0.294px">*</text>
<text x="222.00" y="395.55" font-size="7.09" style="stroke-width:0.298px">Patient 2</text>
<line x1="180.30" y1="408.30" x2="186.80" y2="408.30" stroke="#222" stroke-width="0.6"/>
<rect x="182.45" y="407.20" width="2.20" height="2.20" fill="#fff" stroke="#333" stroke-width="0.5"/>
<text x="186.80" y="409.97" font-size="4.65" style="stroke-width:0.195px">Parent</text>
<line x1="180.30" y1="413.20" x2="186.80" y2="413.20" stroke="#222" stroke-width="0.6"/>
<rect x="182.45" y="412.10" width="2.20" height="2.20" fill="#fff" stroke="#333" stroke-width="0.5"/>
<text x="186.80" y="414.87" font-size="4.65" style="stroke-width:0.195px">NT shRNA</text>
<line x1="180.30" y1="417.80" x2="186.80" y2="417.80" stroke="#222" stroke-width="0.6"/>
<rect x="182.25" y="416.50" width="2.60" height="2.60" fill="#111"/>
<text x="186.80" y="419.47" font-size="4.65" style="stroke-width:0.195px">MEIS1 shRNA</text>
<text x="165.40" y="449.86" font-size="4.32" text-anchor="middle" style="stroke-width:0.181px" transform="rotate(-90 165.40 448.30)">X 10, 000 cells/ml</text>
<text x="222.00" y="504.46" font-size="4.61" style="stroke-width:0.194px">Days post selection</text>
<line x1="326.20" y1="403.30" x2="326.20" y2="494.20" stroke="#777" stroke-width="0.7"/>
<line x1="325.00" y1="494.20" x2="326.20" y2="494.20" stroke="#777" stroke-width="0.5"/>
<text x="323.60" y="495.86" font-size="4.6" text-anchor="end" style="stroke-width:0.193px">0</text>
<line x1="325.00" y1="476.22" x2="326.20" y2="476.22" stroke="#777" stroke-width="0.5"/>
<text x="323.60" y="477.88" font-size="4.6" text-anchor="end" style="stroke-width:0.193px">1</text>
<line x1="325.00" y1="458.24" x2="326.20" y2="458.24" stroke="#777" stroke-width="0.5"/>
<text x="323.60" y="459.90" font-size="4.6" text-anchor="end" style="stroke-width:0.193px">2</text>
<line x1="325.00" y1="440.26" x2="326.20" y2="440.26" stroke="#777" stroke-width="0.5"/>
<text x="323.60" y="441.92" font-size="4.6" text-anchor="end" style="stroke-width:0.193px">3</text>
<line x1="325.00" y1="422.28" x2="326.20" y2="422.28" stroke="#777" stroke-width="0.5"/>
<text x="323.60" y="423.94" font-size="4.6" text-anchor="end" style="stroke-width:0.193px">4</text>
<line x1="325.00" y1="404.30" x2="326.20" y2="404.30" stroke="#777" stroke-width="0.5"/>
<text x="323.60" y="405.96" font-size="4.6" text-anchor="end" style="stroke-width:0.193px">5</text>
<line x1="326.20" y1="494.20" x2="430.00" y2="494.20" stroke="#777" stroke-width="0.7"/>
<line x1="345.00" y1="494.20" x2="345.00" y2="495.40" stroke="#777" stroke-width="0.5"/>
<text x="345.00" y="500.07" font-size="3.8" text-anchor="middle" style="stroke-width:0.16px">d0</text>
<line x1="379.00" y1="494.20" x2="379.00" y2="495.40" stroke="#777" stroke-width="0.5"/>
<text x="379.00" y="500.07" font-size="3.8" text-anchor="middle" style="stroke-width:0.16px">d4</text>
<line x1="412.50" y1="494.20" x2="412.50" y2="495.40" stroke="#777" stroke-width="0.5"/>
<text x="412.50" y="500.07" font-size="3.8" text-anchor="middle" style="stroke-width:0.16px">d6</text>
<polyline points="345.00,422.28 379.00,422.28 412.50,422.28" fill="none" stroke="#888" stroke-width="0.8"/>
<rect x="344.00" y="421.28" width="2.00" height="2.00" fill="#fff" stroke="#444" stroke-width="0.5"/>
<rect x="378.00" y="421.28" width="2.00" height="2.00" fill="#fff" stroke="#444" stroke-width="0.5"/>
<rect x="411.50" y="421.28" width="2.00" height="2.00" fill="#fff" stroke="#444" stroke-width="0.5"/>
<polyline points="345.00,422.28 379.00,424.08 412.50,463.63" fill="none" stroke="#222" stroke-width="1.0"/>
<line x1="379.00" y1="416.89" x2="379.00" y2="431.27" stroke="#888" stroke-width="0.5"/>
<line x1="378.20" y1="416.89" x2="379.80" y2="416.89" stroke="#888" stroke-width="0.5"/>
<line x1="378.20" y1="431.27" x2="379.80" y2="431.27" stroke="#888" stroke-width="0.5"/>
<line x1="412.50" y1="460.94" x2="412.50" y2="466.33" stroke="#888" stroke-width="0.5"/>
<line x1="411.70" y1="460.94" x2="413.30" y2="460.94" stroke="#888" stroke-width="0.5"/>
<line x1="411.70" y1="466.33" x2="413.30" y2="466.33" stroke="#888" stroke-width="0.5"/>
<circle cx="345.00" cy="422.28" r="1.60" fill="#111"/>
<circle cx="379.00" cy="424.08" r="1.60" fill="#111"/>
<circle cx="412.50" cy="463.63" r="1.60" fill="#111"/>
<text x="365.50" y="396.65" font-size="7.35" style="stroke-width:0.309px">Patient 3</text>
<line x1="329.00" y1="407.10" x2="335.50" y2="407.10" stroke="#222" stroke-width="0.6"/>
<rect x="331.15" y="406.00" width="2.20" height="2.20" fill="#fff" stroke="#333" stroke-width="0.5"/>
<text x="335.50" y="408.77" font-size="4.65" style="stroke-width:0.195px">NT shRNA</text>
<line x1="329.00" y1="412.80" x2="335.50" y2="412.80" stroke="#222" stroke-width="0.6"/>
<circle cx="332.25" cy="412.80" r="1.45" fill="#111"/>
<text x="335.50" y="414.47" font-size="4.65" style="stroke-width:0.195px">MEIS1 shRNA 1</text>
<text x="317.10" y="455.96" font-size="4.89" text-anchor="middle" style="stroke-width:0.205px" transform="rotate(-90 317.10 454.20)">X 10, 000 cells/ml</text>
<text x="358.00" y="504.62" font-size="4.5" style="stroke-width:0.189px">Days post selection</text>
<text x="0.90" y="519.54" font-size="11.5" fill="#000" font-weight="bold" style="stroke-width:0.35px">F</text>
<line x1="25.30" y1="523.90" x2="25.30" y2="621.60" stroke="#555" stroke-width="0.8"/>
<line x1="23.90" y1="621.60" x2="25.30" y2="621.60" stroke="#555" stroke-width="0.6"/>
<text x="20.90" y="623.51" font-size="5.3" text-anchor="end" style="stroke-width:0.223px">0</text>
<line x1="23.90" y1="602.26" x2="25.30" y2="602.26" stroke="#555" stroke-width="0.6"/>
<text x="20.90" y="604.17" font-size="5.3" text-anchor="end" style="stroke-width:0.223px">20</text>
<line x1="23.90" y1="582.92" x2="25.30" y2="582.92" stroke="#555" stroke-width="0.6"/>
<text x="20.90" y="584.83" font-size="5.3" text-anchor="end" style="stroke-width:0.223px">40</text>
<line x1="23.90" y1="563.58" x2="25.30" y2="563.58" stroke="#555" stroke-width="0.6"/>
<text x="20.90" y="565.49" font-size="5.3" text-anchor="end" style="stroke-width:0.223px">60</text>
<line x1="23.90" y1="544.24" x2="25.30" y2="544.24" stroke="#555" stroke-width="0.6"/>
<text x="20.90" y="546.15" font-size="5.3" text-anchor="end" style="stroke-width:0.223px">80</text>
<line x1="23.90" y1="524.90" x2="25.30" y2="524.90" stroke="#555" stroke-width="0.6"/>
<text x="20.90" y="526.81" font-size="5.3" text-anchor="end" style="stroke-width:0.223px">100</text>
<line x1="25.30" y1="621.60" x2="166.50" y2="621.60" stroke="#555" stroke-width="0.8"/>
<line x1="25.30" y1="621.60" x2="25.30" y2="623.00" stroke="#333" stroke-width="0.6"/>
<text x="25.30" y="630.34" font-size="5.1" text-anchor="middle" style="stroke-width:0.214px">0</text>
<line x1="71.80" y1="621.60" x2="71.80" y2="623.00" stroke="#333" stroke-width="0.6"/>
<text x="71.80" y="630.34" font-size="5.1" text-anchor="middle" style="stroke-width:0.214px">50</text>
<line x1="118.30" y1="621.60" x2="118.30" y2="623.00" stroke="#333" stroke-width="0.6"/>
<text x="118.30" y="630.34" font-size="5.1" text-anchor="middle" style="stroke-width:0.214px">100</text>
<line x1="164.80" y1="621.60" x2="164.80" y2="623.00" stroke="#333" stroke-width="0.6"/>
<text x="164.80" y="630.34" font-size="5.1" text-anchor="middle" style="stroke-width:0.214px">150</text>
<path d="M25.30,524.90 L116.91,524.90 L116.91,573.25 L130.39,573.25 L130.39,597.42 L164.80,597.42" stroke="#c87880" stroke-width="0.8" fill="none"/>
<path d="M25.30,524.90 L64.36,524.90 L64.36,534.57 L84.36,534.57 L84.36,553.91 L97.38,553.91 L97.38,573.25 L104.35,573.25 L104.35,578.09 L109.37,578.09 L109.37,592.59 L117.37,592.59 L117.37,621.60" stroke="#90c8d8" stroke-width="0.8" fill="none"/>
<path d="M25.30,524.90 L64.36,524.90 L64.36,534.57 L78.31,534.57 L78.31,553.91 L84.36,553.91 L84.36,573.25 L97.38,573.25 L97.38,592.59 L109.37,592.59 L109.37,621.60" stroke="#444" stroke-width="0.8" fill="none"/>
<path d="M25.30,524.90 L164.80,524.90" stroke="#dca0a8" stroke-width="0.8" fill="none"/>
<text x="62.00" y="517.04" font-size="6.21" style="stroke-width:0.261px">MLL-AF9 Retrovirus</text>
<line x1="26.50" y1="599.60" x2="34.50" y2="599.60" stroke="#bbbbbb" stroke-width="0.9"/>
<text x="35.00" y="601.69" font-size="5.8" style="stroke-width:0.244px">Control Veh</text>
<line x1="26.50" y1="606.30" x2="34.50" y2="606.30" stroke="#333" stroke-width="0.9"/>
<text x="35.00" y="608.39" font-size="5.8" style="stroke-width:0.244px">Control Tam</text>
<line x1="26.50" y1="612.50" x2="34.50" y2="612.50" stroke="#c87880" stroke-width="0.9"/>
<text x="35.00" y="614.59" font-size="5.8" style="stroke-width:0.244px">Meis1f/f Tam</text>
<line x1="26.50" y1="618.80" x2="34.50" y2="618.80" stroke="#dca0a8" stroke-width="0.9"/>
<text x="35.00" y="620.89" font-size="5.8" style="stroke-width:0.244px">Meis1f/f Veh</text>
<text x="63.30" y="637.71" font-size="5.85" style="stroke-width:0.246px">Days post transplanation</text>
<text x="10.20" y="575.33" font-size="5.93" text-anchor="middle" style="stroke-width:0.249px" transform="rotate(-90 10.20 573.20)">Survival %</text>
<line x1="208.80" y1="524.00" x2="208.80" y2="621.20" stroke="#555" stroke-width="0.8"/>
<line x1="207.40" y1="621.20" x2="208.80" y2="621.20" stroke="#555" stroke-width="0.6"/>
<text x="204.40" y="623.11" font-size="5.3" text-anchor="end" style="stroke-width:0.223px">0</text>
<line x1="207.40" y1="601.96" x2="208.80" y2="601.96" stroke="#555" stroke-width="0.6"/>
<text x="204.40" y="603.87" font-size="5.3" text-anchor="end" style="stroke-width:0.223px">20</text>
<line x1="207.40" y1="582.72" x2="208.80" y2="582.72" stroke="#555" stroke-width="0.6"/>
<text x="204.40" y="584.63" font-size="5.3" text-anchor="end" style="stroke-width:0.223px">40</text>
<line x1="207.40" y1="563.48" x2="208.80" y2="563.48" stroke="#555" stroke-width="0.6"/>
<text x="204.40" y="565.39" font-size="5.3" text-anchor="end" style="stroke-width:0.223px">60</text>
<line x1="207.40" y1="544.24" x2="208.80" y2="544.24" stroke="#555" stroke-width="0.6"/>
<text x="204.40" y="546.15" font-size="5.3" text-anchor="end" style="stroke-width:0.223px">80</text>
<line x1="207.40" y1="525.00" x2="208.80" y2="525.00" stroke="#555" stroke-width="0.6"/>
<text x="204.40" y="526.91" font-size="5.3" text-anchor="end" style="stroke-width:0.223px">100</text>
<line x1="208.80" y1="621.20" x2="352.00" y2="621.20" stroke="#555" stroke-width="0.8"/>
<line x1="208.80" y1="621.20" x2="208.80" y2="622.60" stroke="#333" stroke-width="0.6"/>
<text x="208.80" y="629.94" font-size="5.1" text-anchor="middle" style="stroke-width:0.214px">0</text>
<line x1="237.30" y1="621.20" x2="237.30" y2="622.60" stroke="#333" stroke-width="0.6"/>
<text x="237.30" y="629.94" font-size="5.1" text-anchor="middle" style="stroke-width:0.214px">50</text>
<line x1="265.80" y1="621.20" x2="265.80" y2="622.60" stroke="#333" stroke-width="0.6"/>
<text x="265.80" y="629.94" font-size="5.1" text-anchor="middle" style="stroke-width:0.214px">100</text>
<line x1="294.30" y1="621.20" x2="294.30" y2="622.60" stroke="#333" stroke-width="0.6"/>
<text x="294.30" y="629.94" font-size="5.1" text-anchor="middle" style="stroke-width:0.214px">150</text>
<line x1="322.80" y1="621.20" x2="322.80" y2="622.60" stroke="#333" stroke-width="0.6"/>
<text x="322.80" y="629.94" font-size="5.1" text-anchor="middle" style="stroke-width:0.214px">200</text>
<line x1="351.30" y1="621.20" x2="351.30" y2="622.60" stroke="#333" stroke-width="0.6"/>
<text x="351.30" y="629.94" font-size="5.1" text-anchor="middle" style="stroke-width:0.214px">250</text>
<path d="M208.80,525.00 L289.74,525.00 L289.74,537.02 L321.66,537.02 L321.66,549.05 L333.97,549.05 L333.97,561.08" stroke="#d06070" stroke-width="1.1" fill="none"/>
<path d="M208.80,525.00 L269.79,525.00 L269.79,537.02 L281.76,537.02 L281.76,549.05 L290.31,549.05 L290.31,585.12 L294.30,585.12 L294.30,597.15 L301.71,597.15 L301.71,609.18 L318.24,609.18 L318.24,621.20" stroke="#dca0a8" stroke-width="0.8" fill="none"/>
<path d="M208.80,525.00 L239.01,525.00 L239.01,544.24 L294.30,544.24 L294.30,582.72 L318.24,582.72 L318.24,621.20" stroke="#90c8d8" stroke-width="0.8" fill="none"/>
<path d="M208.80,525.00 L241.86,525.00 L241.86,544.24 L265.80,544.24 L265.80,563.48 L289.74,563.48 L289.74,621.20" stroke="#5a98b8" stroke-width="0.8" fill="none"/>
<text x="251.70" y="514.84" font-size="6.21" style="stroke-width:0.261px">MLL-AF9 knockin</text>
<line x1="209.80" y1="598.10" x2="218.30" y2="598.10" stroke="#dca0a8" stroke-width="0.9"/>
<text x="218.80" y="600.19" font-size="5.8" style="stroke-width:0.244px">Meis1f/f Veh</text>
<line x1="209.80" y1="604.40" x2="218.30" y2="604.40" stroke="#d06070" stroke-width="0.9"/>
<text x="218.80" y="606.49" font-size="5.8" style="stroke-width:0.244px">Meis1f/f Tam</text>
<line x1="209.80" y1="610.80" x2="218.30" y2="610.80" stroke="#90c8d8" stroke-width="0.9"/>
<text x="218.80" y="612.89" font-size="5.8" style="stroke-width:0.244px">Control Veh</text>
<line x1="209.80" y1="617.50" x2="218.30" y2="617.50" stroke="#5a98b8" stroke-width="0.9"/>
<text x="218.80" y="619.59" font-size="5.8" style="stroke-width:0.244px">Control Tam</text>
<text x="252.90" y="637.29" font-size="5.81" style="stroke-width:0.244px">Days post transplantation</text>
<text x="193.50" y="573.61" font-size="5.57" text-anchor="middle" style="stroke-width:0.234px" transform="rotate(-90 193.50 571.60)">Survival %</text>
<text x="339.30" y="563.70" font-size="7.5" text-anchor="middle" font-weight="bold" style="stroke-width:0.315px">*</text>
<line x1="378.30" y1="525.60" x2="378.30" y2="621.20" stroke="#555" stroke-width="0.8"/>
<line x1="376.90" y1="621.20" x2="378.30" y2="621.20" stroke="#555" stroke-width="0.6"/>
<text x="373.90" y="623.11" font-size="5.3" text-anchor="end" style="stroke-width:0.223px">0</text>
<line x1="376.90" y1="602.28" x2="378.30" y2="602.28" stroke="#555" stroke-width="0.6"/>
<text x="373.90" y="604.19" font-size="5.3" text-anchor="end" style="stroke-width:0.223px">20</text>
<line x1="376.90" y1="583.36" x2="378.30" y2="583.36" stroke="#555" stroke-width="0.6"/>
<text x="373.90" y="585.27" font-size="5.3" text-anchor="end" style="stroke-width:0.223px">40</text>
<line x1="376.90" y1="564.44" x2="378.30" y2="564.44" stroke="#555" stroke-width="0.6"/>
<text x="373.90" y="566.35" font-size="5.3" text-anchor="end" style="stroke-width:0.223px">60</text>
<line x1="376.90" y1="545.52" x2="378.30" y2="545.52" stroke="#555" stroke-width="0.6"/>
<text x="373.90" y="547.43" font-size="5.3" text-anchor="end" style="stroke-width:0.223px">80</text>
<line x1="376.90" y1="526.60" x2="378.30" y2="526.60" stroke="#555" stroke-width="0.6"/>
<text x="373.90" y="528.51" font-size="5.3" text-anchor="end" style="stroke-width:0.223px">100</text>
<line x1="378.30" y1="621.20" x2="505.00" y2="621.20" stroke="#555" stroke-width="0.8"/>
<line x1="378.30" y1="621.20" x2="378.30" y2="622.60" stroke="#333" stroke-width="0.6"/>
<text x="378.30" y="629.94" font-size="5.1" text-anchor="middle" style="stroke-width:0.214px">0</text>
<line x1="403.23" y1="621.20" x2="403.23" y2="622.60" stroke="#333" stroke-width="0.6"/>
<text x="403.23" y="629.94" font-size="5.1" text-anchor="middle" style="stroke-width:0.214px">50</text>
<line x1="428.15" y1="621.20" x2="428.15" y2="622.60" stroke="#333" stroke-width="0.6"/>
<text x="428.15" y="629.94" font-size="5.1" text-anchor="middle" style="stroke-width:0.214px">100</text>
<line x1="453.08" y1="621.20" x2="453.08" y2="622.60" stroke="#333" stroke-width="0.6"/>
<text x="453.08" y="629.94" font-size="5.1" text-anchor="middle" style="stroke-width:0.214px">150</text>
<line x1="478.00" y1="621.20" x2="478.00" y2="622.60" stroke="#333" stroke-width="0.6"/>
<text x="478.00" y="629.94" font-size="5.1" text-anchor="middle" style="stroke-width:0.214px">200</text>
<line x1="502.93" y1="621.20" x2="502.93" y2="622.60" stroke="#333" stroke-width="0.6"/>
<text x="502.93" y="629.94" font-size="5.1" text-anchor="middle" style="stroke-width:0.214px">250</text>
<path d="M378.30,526.60 L483.48,526.60" stroke="#5a98b8" stroke-width="0.8" fill="none"/>
<path d="M378.30,526.60 L423.66,526.60 L423.66,538.43 L426.85,538.43 L426.85,562.08 L430.39,562.08 L430.39,585.73 L433.93,585.73 L433.93,609.38 L483.48,609.38" stroke="#5a98b8" stroke-width="0.8" fill="none" stroke-dasharray="1.7,1.1"/>
<path d="M378.30,526.60 L420.67,526.60 L420.67,550.25 L434.63,550.25 L434.63,597.55 L441.61,597.55 L441.61,621.20" stroke="#dc3040" stroke-width="1.2" fill="none" stroke-dasharray="1.7,1.1"/>
<path d="M378.30,526.60 L420.67,526.60 L420.67,540.13 L424.16,540.13 L424.16,553.66 L427.40,553.66 L427.40,567.18 L431.14,567.18 L431.14,594.14 L434.63,594.14 L434.63,607.67 L438.62,607.67 L438.62,621.20" stroke="#dc3040" stroke-width="1.2" fill="none"/>
<text x="412.70" y="514.81" font-size="6.15" style="stroke-width:0.258px">Meis1-overexpressed</text>
<line x1="381.90" y1="598.70" x2="390.70" y2="598.70" stroke="#5a98b8" stroke-width="0.9" stroke-dasharray="1.7,1.1"/>
<text x="391.20" y="600.79" font-size="5.8" style="stroke-width:0.244px">MSCV Veh</text>
<line x1="381.90" y1="605.00" x2="390.70" y2="605.00" stroke="#5a98b8" stroke-width="0.9"/>
<text x="391.20" y="607.09" font-size="5.8" style="stroke-width:0.244px">MSCV Tam</text>
<line x1="381.90" y1="611.20" x2="390.70" y2="611.20" stroke="#dc3040" stroke-width="1.2" stroke-dasharray="1.7,1.1"/>
<text x="391.20" y="613.29" font-size="5.8" style="stroke-width:0.244px">Meis1 Veh</text>
<line x1="381.90" y1="617.90" x2="390.70" y2="617.90" stroke="#dc3040" stroke-width="1.2"/>
<text x="391.20" y="619.99" font-size="5.8" style="stroke-width:0.244px">Meis1 Tam</text>
<text x="420.90" y="637.60" font-size="5.84" style="stroke-width:0.245px">Days post transplantation</text>
<text x="362.20" y="577.37" font-size="5.74" text-anchor="middle" style="stroke-width:0.241px" transform="rotate(-90 362.20 575.30)">Survival %</text>
</svg></body></html>
